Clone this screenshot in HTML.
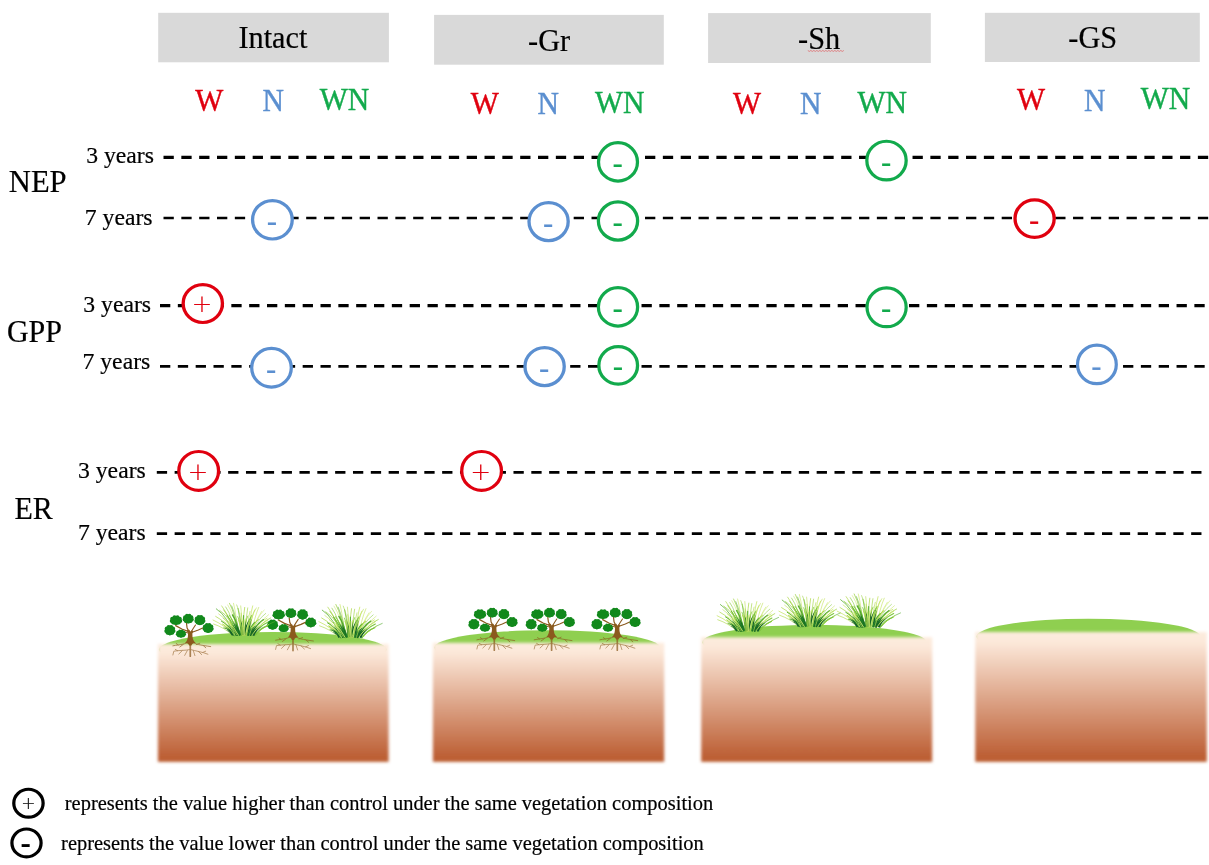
<!DOCTYPE html>
<html lang="en">
<head>
<meta charset="utf-8">
<title>Figure</title>
<style>
html,body{margin:0;padding:0;background:#fff;}
body{width:1209px;height:865px;overflow:hidden;font-family:"Liberation Serif",serif;}
svg{display:block;will-change:transform;}
text{font-family:"Liberation Serif",serif;opacity:0.999;}
</style>
</head>
<body>
<svg width="1209" height="865" viewBox="0 0 1209 865">
<defs>
<linearGradient id="soil" x1="0" y1="0" x2="0" y2="1"><stop offset="0" stop-color="#FDECDE"/><stop offset="0.08" stop-color="#FCE8D9"/><stop offset="0.95" stop-color="#BD6036"/><stop offset="1" stop-color="#BC5F35"/></linearGradient>
<filter id="soft" x="-5%" y="-5%" width="110%" height="110%"><feGaussianBlur stdDeviation="1.4"/></filter>

</defs>
<rect x="158.2" y="12.8" width="230.7" height="49.5" fill="#D9D9D9"/>
<text transform="translate(238.40 48.20) scale(1 1.04)" font-size="30.3" fill="#000" stroke="#000" stroke-width="0.2">Intact</text>
<rect x="434.1" y="14.9" width="229.7" height="49.8" fill="#D9D9D9"/>
<text transform="translate(528.10 50.90) scale(1 1.03)" font-size="30.3" fill="#000" stroke="#000" stroke-width="0.2">-Gr</text>
<rect x="708.1" y="13.1" width="222.7" height="49.9" fill="#D9D9D9"/>
<text transform="translate(798.10 48.70) scale(1 1.03)" font-size="30.3" fill="#000" stroke="#000" stroke-width="0.2">-Sh</text>
<rect x="984.9" y="12.8" width="214.9" height="49.2" fill="#D9D9D9"/>
<text transform="translate(1068.30 47.80) scale(1 1.02)" font-size="30.3" fill="#000" stroke="#000" stroke-width="0.2">-GS</text>
<path d="M807.8 50.5 L809.3 51.4 L810.8 50.5 L812.3 51.4 L813.8 50.5 L815.3 51.4 L816.8 50.5 L818.3 51.4 L819.8 50.5 L821.3 51.4 L822.8 50.5 L824.3 51.4 L825.8 50.5 L827.3 51.4 L828.8 50.5 L830.3 51.4 L831.8 50.5 L833.3 51.4 L834.8 50.5 L836.3 51.4 L837.8 50.5 L839.3 51.4 L840.8 50.5 L842.3 51.4 L843.8 50.5" fill="none" stroke="#E0474C" stroke-width="0.6"/>
<text transform="translate(195.30 111.00) scale(1 1.05)" font-size="29.7" fill="#E0000F" stroke="#E0000F" stroke-width="0.4">W</text>
<text transform="translate(262.40 110.60) scale(1 1.05)" font-size="29.7" fill="#5B8FD0" stroke="#5B8FD0" stroke-width="0.4">N</text>
<text transform="translate(319.70 109.60) scale(1 1.05)" font-size="29.7" fill="#12AA4C" stroke="#12AA4C" stroke-width="0.4">WN</text>
<text transform="translate(470.70 113.60) scale(1 1.07)" font-size="29.7" fill="#E0000F" stroke="#E0000F" stroke-width="0.4">W</text>
<text transform="translate(537.50 113.80) scale(1 1.07)" font-size="29.7" fill="#5B8FD0" stroke="#5B8FD0" stroke-width="0.4">N</text>
<text transform="translate(594.90 112.50) scale(1 1.07)" font-size="29.7" fill="#12AA4C" stroke="#12AA4C" stroke-width="0.4">WN</text>
<text transform="translate(733.10 113.60) scale(1 1.06)" font-size="29.7" fill="#E0000F" stroke="#E0000F" stroke-width="0.4">W</text>
<text transform="translate(800.00 113.80) scale(1 1.06)" font-size="29.7" fill="#5B8FD0" stroke="#5B8FD0" stroke-width="0.4">N</text>
<text transform="translate(857.50 112.50) scale(1 1.06)" font-size="29.7" fill="#12AA4C" stroke="#12AA4C" stroke-width="0.4">WN</text>
<text transform="translate(1017.10 110.10) scale(1 1.08)" font-size="29.7" fill="#E0000F" stroke="#E0000F" stroke-width="0.4">W</text>
<text transform="translate(1084.10 110.60) scale(1 1.08)" font-size="29.7" fill="#5B8FD0" stroke="#5B8FD0" stroke-width="0.4">N</text>
<text transform="translate(1140.80 109.10) scale(1 1.08)" font-size="29.7" fill="#12AA4C" stroke="#12AA4C" stroke-width="0.4">WN</text>
<line x1="163.5" y1="157.4" x2="1208.7" y2="157.4" stroke="#000" stroke-width="3.2" stroke-dasharray="10.3 7.534"/>
<line x1="163.5" y1="218.1" x2="1208.7" y2="218.1" stroke="#000" stroke-width="2.5" stroke-dasharray="10.3 7.534"/>
<line x1="160.0" y1="305.6" x2="1205.2" y2="305.6" stroke="#000" stroke-width="3.1" stroke-dasharray="10.3 7.534"/>
<line x1="160.0" y1="366.3" x2="1205.2" y2="366.3" stroke="#000" stroke-width="2.7" stroke-dasharray="10.3 7.534"/>
<line x1="156.8" y1="472.4" x2="1202.0" y2="472.4" stroke="#000" stroke-width="2.9" stroke-dasharray="10.3 7.534"/>
<line x1="156.8" y1="533.6" x2="1202.0" y2="533.6" stroke="#000" stroke-width="2.9" stroke-dasharray="10.3 7.534"/>
<text transform="translate(86.20 163.40) scale(1 0.99)" font-size="23.7" fill="#000" stroke="#000" stroke-width="0.2">3 years</text>
<text transform="translate(84.80 224.60) scale(1 0.99)" font-size="23.7" fill="#000" stroke="#000" stroke-width="0.2">7 years</text>
<text transform="translate(83.30 312.30) scale(1 0.99)" font-size="23.7" fill="#000" stroke="#000" stroke-width="0.2">3 years</text>
<text transform="translate(82.50 369.00) scale(1 0.99)" font-size="23.7" fill="#000" stroke="#000" stroke-width="0.2">7 years</text>
<text transform="translate(78.00 478.10) scale(1 0.99)" font-size="23.7" fill="#000" stroke="#000" stroke-width="0.2">3 years</text>
<text transform="translate(77.90 540.10) scale(1 0.99)" font-size="23.7" fill="#000" stroke="#000" stroke-width="0.2">7 years</text>
<text transform="translate(8.80 191.50) scale(1 1.035)" font-size="30.6" fill="#000" stroke="#000" stroke-width="0.2">NEP</text>
<text transform="translate(6.90 342.00) scale(1 1.055)" font-size="30" fill="#000" stroke="#000" stroke-width="0.2">GPP</text>
<text transform="translate(14.40 518.70) scale(1 1.03)" font-size="30" fill="#000" stroke="#000" stroke-width="0.2">ER</text>
<circle transform="translate(618.0 161.9) scale(1.0144 1)" cx="0" cy="0" r="19.20" fill="#fff" stroke="#12AA4C" stroke-width="3.2"/>
<text transform="translate(617.60 173.95) scale(1 1.12)" font-size="31" text-anchor="middle" fill="#12AA4C">-</text>
<circle transform="translate(886.5 160.6) scale(1.0167 1)" cx="0" cy="0" r="19.35" fill="#fff" stroke="#12AA4C" stroke-width="3.2"/>
<text transform="translate(886.10 172.65) scale(1 1.12)" font-size="31" text-anchor="middle" fill="#12AA4C">-</text>
<circle transform="translate(272.4 219.8) scale(1.0337 1)" cx="0" cy="0" r="19.20" fill="#fff" stroke="#5B8FD0" stroke-width="3.2"/>
<text transform="translate(272.00 231.85) scale(1 1.12)" font-size="31" text-anchor="middle" fill="#5B8FD0">-</text>
<circle transform="translate(548.6 221.6) scale(1.0341 1)" cx="0" cy="0" r="18.95" fill="#fff" stroke="#5B8FD0" stroke-width="3.2"/>
<text transform="translate(548.20 233.65) scale(1 1.12)" font-size="31" text-anchor="middle" fill="#5B8FD0">-</text>
<circle transform="translate(618.0 221.0) scale(1.0266 1)" cx="0" cy="0" r="19.10" fill="#fff" stroke="#12AA4C" stroke-width="3.2"/>
<text transform="translate(617.60 233.05) scale(1 1.12)" font-size="31" text-anchor="middle" fill="#12AA4C">-</text>
<circle transform="translate(1034.6 218.6) scale(1.0417 1)" cx="0" cy="0" r="18.80" fill="#fff" stroke="#E0000F" stroke-width="3.2"/>
<text transform="translate(1034.20 230.65) scale(1 1.12)" font-size="31" text-anchor="middle" fill="#E0000F">-</text>
<circle transform="translate(202.8 303.6) scale(1.0390 1)" cx="0" cy="0" r="18.90" fill="#fff" stroke="#E0000F" stroke-width="3.2"/>
<text x="202.00" y="312.21" font-size="25.0" text-anchor="middle" fill="#E0000F" stroke="#E0000F" stroke-width="0.12" style="font-family:'DejaVu Sans Light','DejaVu Sans',sans-serif;font-weight:200">+</text>
<circle transform="translate(618.0 306.9) scale(1.0216 1)" cx="0" cy="0" r="19.20" fill="#fff" stroke="#12AA4C" stroke-width="3.2"/>
<text transform="translate(617.60 318.95) scale(1 1.12)" font-size="31" text-anchor="middle" fill="#12AA4C">-</text>
<circle transform="translate(886.6 307.3) scale(1.0095 1)" cx="0" cy="0" r="19.40" fill="#fff" stroke="#12AA4C" stroke-width="3.2"/>
<text transform="translate(886.20 319.35) scale(1 1.12)" font-size="31" text-anchor="middle" fill="#12AA4C">-</text>
<circle transform="translate(271.5 367.75) scale(1.0263 1)" cx="0" cy="0" r="19.30" fill="#fff" stroke="#5B8FD0" stroke-width="3.2"/>
<text transform="translate(271.10 379.80) scale(1 1.12)" font-size="31" text-anchor="middle" fill="#5B8FD0">-</text>
<circle transform="translate(544.6 366.6) scale(1.0365 1)" cx="0" cy="0" r="18.95" fill="#fff" stroke="#5B8FD0" stroke-width="3.2"/>
<text transform="translate(544.20 378.65) scale(1 1.12)" font-size="31" text-anchor="middle" fill="#5B8FD0">-</text>
<circle transform="translate(618.2 365.4) scale(1.0294 1)" cx="0" cy="0" r="18.80" fill="#fff" stroke="#12AA4C" stroke-width="3.2"/>
<text transform="translate(617.80 377.45) scale(1 1.12)" font-size="31" text-anchor="middle" fill="#12AA4C">-</text>
<circle transform="translate(1096.9 364.4) scale(1.0048 1)" cx="0" cy="0" r="19.30" fill="#fff" stroke="#5B8FD0" stroke-width="3.2"/>
<text transform="translate(1096.50 376.45) scale(1 1.12)" font-size="31" text-anchor="middle" fill="#5B8FD0">-</text>
<circle transform="translate(198.7 470.9) scale(1.0238 1)" cx="0" cy="0" r="19.40" fill="#fff" stroke="#E0000F" stroke-width="3.2"/>
<text x="197.90" y="479.51" font-size="25.0" text-anchor="middle" fill="#E0000F" stroke="#E0000F" stroke-width="0.12" style="font-family:'DejaVu Sans Light','DejaVu Sans',sans-serif;font-weight:200">+</text>
<circle transform="translate(481.6 470.9) scale(1.0238 1)" cx="0" cy="0" r="19.40" fill="#fff" stroke="#E0000F" stroke-width="3.2"/>
<text x="480.80" y="479.51" font-size="25.0" text-anchor="middle" fill="#E0000F" stroke="#E0000F" stroke-width="0.12" style="font-family:'DejaVu Sans Light','DejaVu Sans',sans-serif;font-weight:200">+</text>
<ellipse cx="272.8" cy="649.5" rx="113.8" ry="17.6" fill="#8FCF50"/>
<rect x="157.9" y="644.0" width="230.7" height="117.9" fill="url(#soil)" filter="url(#soft)"/>
<ellipse cx="547.2" cy="647.6" rx="112.9" ry="17.4" fill="#8FCF50"/>
<rect x="432.9" y="642.8" width="231.3" height="119.1" fill="url(#soil)" filter="url(#soft)"/>
<ellipse cx="814.4" cy="642.2" rx="112.2" ry="17.4" fill="#8FCF50"/>
<rect x="701.2" y="637.2" width="231.0" height="124.7" fill="url(#soil)" filter="url(#soft)"/>
<ellipse cx="1088.4" cy="636.5" rx="112.0" ry="17.8" fill="#8FCF50"/>
<rect x="975.2" y="632.0" width="231.6" height="129.9" fill="url(#soil)" filter="url(#soft)"/>
<g transform="translate(190.3 642.6)">
<g fill="none" stroke="#8B5A1E" stroke-linecap="round" opacity="0.72">
<path d="M0 -2 L0 13.6" stroke-width="1.7"/>
<path d="M-1.5 -1.5 C-4 2 -9 1.6 -17.4 3.2 M1.5 -1.5 C4 2 10 2.4 20.4 4 M-7 1.8 L-10.5 4.4 M6 2 L9.5 0.6 M-12 2.4 L-14 1 M13 3 L15.5 5.2" stroke-width="0.9"/>
<path d="M-0.5 7 C-5 8 -11 7.6 -16.5 8.6 L-17.4 12.4 M0.5 7 C5 8.4 11 9 17.6 11.6 M-8 8 L-11.5 11.4 M8 8.8 L11.4 12 M-3 8 L-5.6 12.8 M3 8 L4.6 13 M-12.6 8.2 L-15 6.8 M12.6 9.8 L15.4 8.6" stroke-width="0.75"/>
</g>
<g fill="none" stroke="#8B5A1E" stroke-linecap="round" stroke-linejoin="round">
<path d="M-1.6 -11 L-8.5 -13.6 L-14.6 -17" stroke-width="1.3"/>
<path d="M-1.8 -12 L-3.2 -14.6 L-3.8 -19.2" stroke-width="1.2"/>
<path d="M1.4 -11.6 L3.2 -14.6 L5.2 -17.6" stroke-width="1.1"/>
<path d="M1.8 -10.4 L8 -12.6 L14 -15.4" stroke-width="1.2"/>
<path d="M-2 -9.6 L-6.6 -10.6" stroke-width="1.0"/>
</g>
<path d="M-5.2 0.4 C-2.8 -2 -2.3 -4.6 -2.3 -8.6 C-2.4 -10.4 -3 -11.4 -3.8 -12.4 L-1 -12.8 L0.1 -11 L1.6 -12.4 L3 -11 C2.3 -10 2.1 -9.4 2.1 -8.2 C2.1 -4.6 2.7 -2 5.4 0.4 C3.2 0 1.8 1 1.1 3 L-1.1 3 C-1.8 1 -3.2 0 -5.2 0.4 Z" fill="#8B5A1E"/>
<g fill="#12891C"><ellipse cx="-14.3" cy="-22.10" rx="5.54" ry="4.34"/><circle cx="-12.81" cy="-25.51" r="1.96"/><circle cx="-10.53" cy="-24.01" r="1.96"/><circle cx="-10.01" cy="-21.71" r="1.96"/><circle cx="-11.50" cy="-20.12" r="1.96"/><circle cx="-14.30" cy="-19.46" r="1.96"/><circle cx="-17.10" cy="-20.12" r="1.96"/><circle cx="-18.59" cy="-21.71" r="1.96"/><circle cx="-18.07" cy="-24.01" r="1.96"/><circle cx="-15.79" cy="-25.51" r="1.96"/><ellipse cx="-2.1" cy="-23.50" rx="4.71" ry="4.25"/><circle cx="-0.83" cy="-26.84" r="1.92"/><circle cx="1.11" cy="-25.37" r="1.92"/><circle cx="1.55" cy="-23.12" r="1.92"/><circle cx="0.28" cy="-21.57" r="1.92"/><circle cx="-2.10" cy="-20.92" r="1.92"/><circle cx="-4.48" cy="-21.57" r="1.92"/><circle cx="-5.75" cy="-23.12" r="1.92"/><circle cx="-5.31" cy="-25.37" r="1.92"/><circle cx="-3.37" cy="-26.84" r="1.92"/><ellipse cx="9.6" cy="-22.10" rx="4.53" ry="4.53"/><circle cx="10.82" cy="-25.64" r="2.05"/><circle cx="12.68" cy="-24.08" r="2.05"/><circle cx="13.10" cy="-21.68" r="2.05"/><circle cx="11.89" cy="-20.03" r="2.05"/><circle cx="9.60" cy="-19.34" r="2.05"/><circle cx="7.31" cy="-20.03" r="2.05"/><circle cx="6.10" cy="-21.68" r="2.05"/><circle cx="6.52" cy="-24.08" r="2.05"/><circle cx="8.38" cy="-25.64" r="2.05"/><ellipse cx="17.8" cy="-14.20" rx="4.71" ry="4.34"/><circle cx="19.07" cy="-17.61" r="1.96"/><circle cx="21.01" cy="-16.11" r="1.96"/><circle cx="21.45" cy="-13.81" r="1.96"/><circle cx="20.18" cy="-12.22" r="1.96"/><circle cx="17.80" cy="-11.56" r="1.96"/><circle cx="15.42" cy="-12.22" r="1.96"/><circle cx="14.15" cy="-13.81" r="1.96"/><circle cx="14.59" cy="-16.11" r="1.96"/><circle cx="16.53" cy="-17.61" r="1.96"/><ellipse cx="-20.4" cy="-12.00" rx="4.62" ry="4.53"/><circle cx="-19.16" cy="-15.54" r="2.05"/><circle cx="-17.26" cy="-13.98" r="2.05"/><circle cx="-16.83" cy="-11.58" r="2.05"/><circle cx="-18.07" cy="-9.93" r="2.05"/><circle cx="-20.40" cy="-9.24" r="2.05"/><circle cx="-22.73" cy="-9.93" r="2.05"/><circle cx="-23.97" cy="-11.58" r="2.05"/><circle cx="-23.54" cy="-13.98" r="2.05"/><circle cx="-21.64" cy="-15.54" r="2.05"/><ellipse cx="-9.35" cy="-8.60" rx="4.53" ry="3.51"/><circle cx="-8.13" cy="-11.39" r="1.59"/><circle cx="-6.27" cy="-10.18" r="1.59"/><circle cx="-5.85" cy="-8.32" r="1.59"/><circle cx="-7.06" cy="-7.04" r="1.59"/><circle cx="-9.35" cy="-6.50" r="1.59"/><circle cx="-11.64" cy="-7.04" r="1.59"/><circle cx="-12.85" cy="-8.32" r="1.59"/><circle cx="-12.43" cy="-10.18" r="1.59"/><circle cx="-10.57" cy="-11.39" r="1.59"/></g>
</g>
<g transform="translate(293.0 637.0)">
<g fill="none" stroke="#8B5A1E" stroke-linecap="round" opacity="0.72">
<path d="M0 -2 L0 13.6" stroke-width="1.7"/>
<path d="M-1.5 -1.5 C-4 2 -9 1.6 -17.4 3.2 M1.5 -1.5 C4 2 10 2.4 20.4 4 M-7 1.8 L-10.5 4.4 M6 2 L9.5 0.6 M-12 2.4 L-14 1 M13 3 L15.5 5.2" stroke-width="0.9"/>
<path d="M-0.5 7 C-5 8 -11 7.6 -16.5 8.6 L-17.4 12.4 M0.5 7 C5 8.4 11 9 17.6 11.6 M-8 8 L-11.5 11.4 M8 8.8 L11.4 12 M-3 8 L-5.6 12.8 M3 8 L4.6 13 M-12.6 8.2 L-15 6.8 M12.6 9.8 L15.4 8.6" stroke-width="0.75"/>
</g>
<g fill="none" stroke="#8B5A1E" stroke-linecap="round" stroke-linejoin="round">
<path d="M-1.6 -11 L-8.5 -13.6 L-14.6 -17" stroke-width="1.3"/>
<path d="M-1.8 -12 L-3.2 -14.6 L-3.8 -19.2" stroke-width="1.2"/>
<path d="M1.4 -11.6 L3.2 -14.6 L5.2 -17.6" stroke-width="1.1"/>
<path d="M1.8 -10.4 L8 -12.6 L14 -15.4" stroke-width="1.2"/>
<path d="M-2 -9.6 L-6.6 -10.6" stroke-width="1.0"/>
</g>
<path d="M-5.2 0.4 C-2.8 -2 -2.3 -4.6 -2.3 -8.6 C-2.4 -10.4 -3 -11.4 -3.8 -12.4 L-1 -12.8 L0.1 -11 L1.6 -12.4 L3 -11 C2.3 -10 2.1 -9.4 2.1 -8.2 C2.1 -4.6 2.7 -2 5.4 0.4 C3.2 0 1.8 1 1.1 3 L-1.1 3 C-1.8 1 -3.2 0 -5.2 0.4 Z" fill="#8B5A1E"/>
<g fill="#12891C"><ellipse cx="-14.3" cy="-22.10" rx="5.54" ry="4.34"/><circle cx="-12.81" cy="-25.51" r="1.96"/><circle cx="-10.53" cy="-24.01" r="1.96"/><circle cx="-10.01" cy="-21.71" r="1.96"/><circle cx="-11.50" cy="-20.12" r="1.96"/><circle cx="-14.30" cy="-19.46" r="1.96"/><circle cx="-17.10" cy="-20.12" r="1.96"/><circle cx="-18.59" cy="-21.71" r="1.96"/><circle cx="-18.07" cy="-24.01" r="1.96"/><circle cx="-15.79" cy="-25.51" r="1.96"/><ellipse cx="-2.1" cy="-23.50" rx="4.71" ry="4.25"/><circle cx="-0.83" cy="-26.84" r="1.92"/><circle cx="1.11" cy="-25.37" r="1.92"/><circle cx="1.55" cy="-23.12" r="1.92"/><circle cx="0.28" cy="-21.57" r="1.92"/><circle cx="-2.10" cy="-20.92" r="1.92"/><circle cx="-4.48" cy="-21.57" r="1.92"/><circle cx="-5.75" cy="-23.12" r="1.92"/><circle cx="-5.31" cy="-25.37" r="1.92"/><circle cx="-3.37" cy="-26.84" r="1.92"/><ellipse cx="9.6" cy="-22.10" rx="4.53" ry="4.53"/><circle cx="10.82" cy="-25.64" r="2.05"/><circle cx="12.68" cy="-24.08" r="2.05"/><circle cx="13.10" cy="-21.68" r="2.05"/><circle cx="11.89" cy="-20.03" r="2.05"/><circle cx="9.60" cy="-19.34" r="2.05"/><circle cx="7.31" cy="-20.03" r="2.05"/><circle cx="6.10" cy="-21.68" r="2.05"/><circle cx="6.52" cy="-24.08" r="2.05"/><circle cx="8.38" cy="-25.64" r="2.05"/><ellipse cx="17.8" cy="-14.20" rx="4.71" ry="4.34"/><circle cx="19.07" cy="-17.61" r="1.96"/><circle cx="21.01" cy="-16.11" r="1.96"/><circle cx="21.45" cy="-13.81" r="1.96"/><circle cx="20.18" cy="-12.22" r="1.96"/><circle cx="17.80" cy="-11.56" r="1.96"/><circle cx="15.42" cy="-12.22" r="1.96"/><circle cx="14.15" cy="-13.81" r="1.96"/><circle cx="14.59" cy="-16.11" r="1.96"/><circle cx="16.53" cy="-17.61" r="1.96"/><ellipse cx="-20.4" cy="-12.00" rx="4.62" ry="4.53"/><circle cx="-19.16" cy="-15.54" r="2.05"/><circle cx="-17.26" cy="-13.98" r="2.05"/><circle cx="-16.83" cy="-11.58" r="2.05"/><circle cx="-18.07" cy="-9.93" r="2.05"/><circle cx="-20.40" cy="-9.24" r="2.05"/><circle cx="-22.73" cy="-9.93" r="2.05"/><circle cx="-23.97" cy="-11.58" r="2.05"/><circle cx="-23.54" cy="-13.98" r="2.05"/><circle cx="-21.64" cy="-15.54" r="2.05"/><ellipse cx="-9.35" cy="-8.60" rx="4.53" ry="3.51"/><circle cx="-8.13" cy="-11.39" r="1.59"/><circle cx="-6.27" cy="-10.18" r="1.59"/><circle cx="-5.85" cy="-8.32" r="1.59"/><circle cx="-7.06" cy="-7.04" r="1.59"/><circle cx="-9.35" cy="-6.50" r="1.59"/><circle cx="-11.64" cy="-7.04" r="1.59"/><circle cx="-12.85" cy="-8.32" r="1.59"/><circle cx="-12.43" cy="-10.18" r="1.59"/><circle cx="-10.57" cy="-11.39" r="1.59"/></g>
</g>
<g transform="translate(494.3 636.6)">
<g fill="none" stroke="#8B5A1E" stroke-linecap="round" opacity="0.72">
<path d="M0 -2 L0 13.6" stroke-width="1.7"/>
<path d="M-1.5 -1.5 C-4 2 -9 1.6 -17.4 3.2 M1.5 -1.5 C4 2 10 2.4 20.4 4 M-7 1.8 L-10.5 4.4 M6 2 L9.5 0.6 M-12 2.4 L-14 1 M13 3 L15.5 5.2" stroke-width="0.9"/>
<path d="M-0.5 7 C-5 8 -11 7.6 -16.5 8.6 L-17.4 12.4 M0.5 7 C5 8.4 11 9 17.6 11.6 M-8 8 L-11.5 11.4 M8 8.8 L11.4 12 M-3 8 L-5.6 12.8 M3 8 L4.6 13 M-12.6 8.2 L-15 6.8 M12.6 9.8 L15.4 8.6" stroke-width="0.75"/>
</g>
<g fill="none" stroke="#8B5A1E" stroke-linecap="round" stroke-linejoin="round">
<path d="M-1.6 -11 L-8.5 -13.6 L-14.6 -17" stroke-width="1.3"/>
<path d="M-1.8 -12 L-3.2 -14.6 L-3.8 -19.2" stroke-width="1.2"/>
<path d="M1.4 -11.6 L3.2 -14.6 L5.2 -17.6" stroke-width="1.1"/>
<path d="M1.8 -10.4 L8 -12.6 L14 -15.4" stroke-width="1.2"/>
<path d="M-2 -9.6 L-6.6 -10.6" stroke-width="1.0"/>
</g>
<path d="M-5.2 0.4 C-2.8 -2 -2.3 -4.6 -2.3 -8.6 C-2.4 -10.4 -3 -11.4 -3.8 -12.4 L-1 -12.8 L0.1 -11 L1.6 -12.4 L3 -11 C2.3 -10 2.1 -9.4 2.1 -8.2 C2.1 -4.6 2.7 -2 5.4 0.4 C3.2 0 1.8 1 1.1 3 L-1.1 3 C-1.8 1 -3.2 0 -5.2 0.4 Z" fill="#8B5A1E"/>
<g fill="#12891C"><ellipse cx="-14.3" cy="-22.10" rx="5.54" ry="4.34"/><circle cx="-12.81" cy="-25.51" r="1.96"/><circle cx="-10.53" cy="-24.01" r="1.96"/><circle cx="-10.01" cy="-21.71" r="1.96"/><circle cx="-11.50" cy="-20.12" r="1.96"/><circle cx="-14.30" cy="-19.46" r="1.96"/><circle cx="-17.10" cy="-20.12" r="1.96"/><circle cx="-18.59" cy="-21.71" r="1.96"/><circle cx="-18.07" cy="-24.01" r="1.96"/><circle cx="-15.79" cy="-25.51" r="1.96"/><ellipse cx="-2.1" cy="-23.50" rx="4.71" ry="4.25"/><circle cx="-0.83" cy="-26.84" r="1.92"/><circle cx="1.11" cy="-25.37" r="1.92"/><circle cx="1.55" cy="-23.12" r="1.92"/><circle cx="0.28" cy="-21.57" r="1.92"/><circle cx="-2.10" cy="-20.92" r="1.92"/><circle cx="-4.48" cy="-21.57" r="1.92"/><circle cx="-5.75" cy="-23.12" r="1.92"/><circle cx="-5.31" cy="-25.37" r="1.92"/><circle cx="-3.37" cy="-26.84" r="1.92"/><ellipse cx="9.6" cy="-22.10" rx="4.53" ry="4.53"/><circle cx="10.82" cy="-25.64" r="2.05"/><circle cx="12.68" cy="-24.08" r="2.05"/><circle cx="13.10" cy="-21.68" r="2.05"/><circle cx="11.89" cy="-20.03" r="2.05"/><circle cx="9.60" cy="-19.34" r="2.05"/><circle cx="7.31" cy="-20.03" r="2.05"/><circle cx="6.10" cy="-21.68" r="2.05"/><circle cx="6.52" cy="-24.08" r="2.05"/><circle cx="8.38" cy="-25.64" r="2.05"/><ellipse cx="17.8" cy="-14.20" rx="4.71" ry="4.34"/><circle cx="19.07" cy="-17.61" r="1.96"/><circle cx="21.01" cy="-16.11" r="1.96"/><circle cx="21.45" cy="-13.81" r="1.96"/><circle cx="20.18" cy="-12.22" r="1.96"/><circle cx="17.80" cy="-11.56" r="1.96"/><circle cx="15.42" cy="-12.22" r="1.96"/><circle cx="14.15" cy="-13.81" r="1.96"/><circle cx="14.59" cy="-16.11" r="1.96"/><circle cx="16.53" cy="-17.61" r="1.96"/><ellipse cx="-20.4" cy="-12.00" rx="4.62" ry="4.53"/><circle cx="-19.16" cy="-15.54" r="2.05"/><circle cx="-17.26" cy="-13.98" r="2.05"/><circle cx="-16.83" cy="-11.58" r="2.05"/><circle cx="-18.07" cy="-9.93" r="2.05"/><circle cx="-20.40" cy="-9.24" r="2.05"/><circle cx="-22.73" cy="-9.93" r="2.05"/><circle cx="-23.97" cy="-11.58" r="2.05"/><circle cx="-23.54" cy="-13.98" r="2.05"/><circle cx="-21.64" cy="-15.54" r="2.05"/><ellipse cx="-9.35" cy="-8.60" rx="4.53" ry="3.51"/><circle cx="-8.13" cy="-11.39" r="1.59"/><circle cx="-6.27" cy="-10.18" r="1.59"/><circle cx="-5.85" cy="-8.32" r="1.59"/><circle cx="-7.06" cy="-7.04" r="1.59"/><circle cx="-9.35" cy="-6.50" r="1.59"/><circle cx="-11.64" cy="-7.04" r="1.59"/><circle cx="-12.85" cy="-8.32" r="1.59"/><circle cx="-12.43" cy="-10.18" r="1.59"/><circle cx="-10.57" cy="-11.39" r="1.59"/></g>
</g>
<g transform="translate(551.6 636.6)">
<g fill="none" stroke="#8B5A1E" stroke-linecap="round" opacity="0.72">
<path d="M0 -2 L0 13.6" stroke-width="1.7"/>
<path d="M-1.5 -1.5 C-4 2 -9 1.6 -17.4 3.2 M1.5 -1.5 C4 2 10 2.4 20.4 4 M-7 1.8 L-10.5 4.4 M6 2 L9.5 0.6 M-12 2.4 L-14 1 M13 3 L15.5 5.2" stroke-width="0.9"/>
<path d="M-0.5 7 C-5 8 -11 7.6 -16.5 8.6 L-17.4 12.4 M0.5 7 C5 8.4 11 9 17.6 11.6 M-8 8 L-11.5 11.4 M8 8.8 L11.4 12 M-3 8 L-5.6 12.8 M3 8 L4.6 13 M-12.6 8.2 L-15 6.8 M12.6 9.8 L15.4 8.6" stroke-width="0.75"/>
</g>
<g fill="none" stroke="#8B5A1E" stroke-linecap="round" stroke-linejoin="round">
<path d="M-1.6 -11 L-8.5 -13.6 L-14.6 -17" stroke-width="1.3"/>
<path d="M-1.8 -12 L-3.2 -14.6 L-3.8 -19.2" stroke-width="1.2"/>
<path d="M1.4 -11.6 L3.2 -14.6 L5.2 -17.6" stroke-width="1.1"/>
<path d="M1.8 -10.4 L8 -12.6 L14 -15.4" stroke-width="1.2"/>
<path d="M-2 -9.6 L-6.6 -10.6" stroke-width="1.0"/>
</g>
<path d="M-5.2 0.4 C-2.8 -2 -2.3 -4.6 -2.3 -8.6 C-2.4 -10.4 -3 -11.4 -3.8 -12.4 L-1 -12.8 L0.1 -11 L1.6 -12.4 L3 -11 C2.3 -10 2.1 -9.4 2.1 -8.2 C2.1 -4.6 2.7 -2 5.4 0.4 C3.2 0 1.8 1 1.1 3 L-1.1 3 C-1.8 1 -3.2 0 -5.2 0.4 Z" fill="#8B5A1E"/>
<g fill="#12891C"><ellipse cx="-14.3" cy="-22.10" rx="5.54" ry="4.34"/><circle cx="-12.81" cy="-25.51" r="1.96"/><circle cx="-10.53" cy="-24.01" r="1.96"/><circle cx="-10.01" cy="-21.71" r="1.96"/><circle cx="-11.50" cy="-20.12" r="1.96"/><circle cx="-14.30" cy="-19.46" r="1.96"/><circle cx="-17.10" cy="-20.12" r="1.96"/><circle cx="-18.59" cy="-21.71" r="1.96"/><circle cx="-18.07" cy="-24.01" r="1.96"/><circle cx="-15.79" cy="-25.51" r="1.96"/><ellipse cx="-2.1" cy="-23.50" rx="4.71" ry="4.25"/><circle cx="-0.83" cy="-26.84" r="1.92"/><circle cx="1.11" cy="-25.37" r="1.92"/><circle cx="1.55" cy="-23.12" r="1.92"/><circle cx="0.28" cy="-21.57" r="1.92"/><circle cx="-2.10" cy="-20.92" r="1.92"/><circle cx="-4.48" cy="-21.57" r="1.92"/><circle cx="-5.75" cy="-23.12" r="1.92"/><circle cx="-5.31" cy="-25.37" r="1.92"/><circle cx="-3.37" cy="-26.84" r="1.92"/><ellipse cx="9.6" cy="-22.10" rx="4.53" ry="4.53"/><circle cx="10.82" cy="-25.64" r="2.05"/><circle cx="12.68" cy="-24.08" r="2.05"/><circle cx="13.10" cy="-21.68" r="2.05"/><circle cx="11.89" cy="-20.03" r="2.05"/><circle cx="9.60" cy="-19.34" r="2.05"/><circle cx="7.31" cy="-20.03" r="2.05"/><circle cx="6.10" cy="-21.68" r="2.05"/><circle cx="6.52" cy="-24.08" r="2.05"/><circle cx="8.38" cy="-25.64" r="2.05"/><ellipse cx="17.8" cy="-14.20" rx="4.71" ry="4.34"/><circle cx="19.07" cy="-17.61" r="1.96"/><circle cx="21.01" cy="-16.11" r="1.96"/><circle cx="21.45" cy="-13.81" r="1.96"/><circle cx="20.18" cy="-12.22" r="1.96"/><circle cx="17.80" cy="-11.56" r="1.96"/><circle cx="15.42" cy="-12.22" r="1.96"/><circle cx="14.15" cy="-13.81" r="1.96"/><circle cx="14.59" cy="-16.11" r="1.96"/><circle cx="16.53" cy="-17.61" r="1.96"/><ellipse cx="-20.4" cy="-12.00" rx="4.62" ry="4.53"/><circle cx="-19.16" cy="-15.54" r="2.05"/><circle cx="-17.26" cy="-13.98" r="2.05"/><circle cx="-16.83" cy="-11.58" r="2.05"/><circle cx="-18.07" cy="-9.93" r="2.05"/><circle cx="-20.40" cy="-9.24" r="2.05"/><circle cx="-22.73" cy="-9.93" r="2.05"/><circle cx="-23.97" cy="-11.58" r="2.05"/><circle cx="-23.54" cy="-13.98" r="2.05"/><circle cx="-21.64" cy="-15.54" r="2.05"/><ellipse cx="-9.35" cy="-8.60" rx="4.53" ry="3.51"/><circle cx="-8.13" cy="-11.39" r="1.59"/><circle cx="-6.27" cy="-10.18" r="1.59"/><circle cx="-5.85" cy="-8.32" r="1.59"/><circle cx="-7.06" cy="-7.04" r="1.59"/><circle cx="-9.35" cy="-6.50" r="1.59"/><circle cx="-11.64" cy="-7.04" r="1.59"/><circle cx="-12.85" cy="-8.32" r="1.59"/><circle cx="-12.43" cy="-10.18" r="1.59"/><circle cx="-10.57" cy="-11.39" r="1.59"/></g>
</g>
<g transform="translate(617.3 636.6)">
<g fill="none" stroke="#8B5A1E" stroke-linecap="round" opacity="0.72">
<path d="M0 -2 L0 13.6" stroke-width="1.7"/>
<path d="M-1.5 -1.5 C-4 2 -9 1.6 -17.4 3.2 M1.5 -1.5 C4 2 10 2.4 20.4 4 M-7 1.8 L-10.5 4.4 M6 2 L9.5 0.6 M-12 2.4 L-14 1 M13 3 L15.5 5.2" stroke-width="0.9"/>
<path d="M-0.5 7 C-5 8 -11 7.6 -16.5 8.6 L-17.4 12.4 M0.5 7 C5 8.4 11 9 17.6 11.6 M-8 8 L-11.5 11.4 M8 8.8 L11.4 12 M-3 8 L-5.6 12.8 M3 8 L4.6 13 M-12.6 8.2 L-15 6.8 M12.6 9.8 L15.4 8.6" stroke-width="0.75"/>
</g>
<g fill="none" stroke="#8B5A1E" stroke-linecap="round" stroke-linejoin="round">
<path d="M-1.6 -11 L-8.5 -13.6 L-14.6 -17" stroke-width="1.3"/>
<path d="M-1.8 -12 L-3.2 -14.6 L-3.8 -19.2" stroke-width="1.2"/>
<path d="M1.4 -11.6 L3.2 -14.6 L5.2 -17.6" stroke-width="1.1"/>
<path d="M1.8 -10.4 L8 -12.6 L14 -15.4" stroke-width="1.2"/>
<path d="M-2 -9.6 L-6.6 -10.6" stroke-width="1.0"/>
</g>
<path d="M-5.2 0.4 C-2.8 -2 -2.3 -4.6 -2.3 -8.6 C-2.4 -10.4 -3 -11.4 -3.8 -12.4 L-1 -12.8 L0.1 -11 L1.6 -12.4 L3 -11 C2.3 -10 2.1 -9.4 2.1 -8.2 C2.1 -4.6 2.7 -2 5.4 0.4 C3.2 0 1.8 1 1.1 3 L-1.1 3 C-1.8 1 -3.2 0 -5.2 0.4 Z" fill="#8B5A1E"/>
<g fill="#12891C"><ellipse cx="-14.3" cy="-22.10" rx="5.54" ry="4.34"/><circle cx="-12.81" cy="-25.51" r="1.96"/><circle cx="-10.53" cy="-24.01" r="1.96"/><circle cx="-10.01" cy="-21.71" r="1.96"/><circle cx="-11.50" cy="-20.12" r="1.96"/><circle cx="-14.30" cy="-19.46" r="1.96"/><circle cx="-17.10" cy="-20.12" r="1.96"/><circle cx="-18.59" cy="-21.71" r="1.96"/><circle cx="-18.07" cy="-24.01" r="1.96"/><circle cx="-15.79" cy="-25.51" r="1.96"/><ellipse cx="-2.1" cy="-23.50" rx="4.71" ry="4.25"/><circle cx="-0.83" cy="-26.84" r="1.92"/><circle cx="1.11" cy="-25.37" r="1.92"/><circle cx="1.55" cy="-23.12" r="1.92"/><circle cx="0.28" cy="-21.57" r="1.92"/><circle cx="-2.10" cy="-20.92" r="1.92"/><circle cx="-4.48" cy="-21.57" r="1.92"/><circle cx="-5.75" cy="-23.12" r="1.92"/><circle cx="-5.31" cy="-25.37" r="1.92"/><circle cx="-3.37" cy="-26.84" r="1.92"/><ellipse cx="9.6" cy="-22.10" rx="4.53" ry="4.53"/><circle cx="10.82" cy="-25.64" r="2.05"/><circle cx="12.68" cy="-24.08" r="2.05"/><circle cx="13.10" cy="-21.68" r="2.05"/><circle cx="11.89" cy="-20.03" r="2.05"/><circle cx="9.60" cy="-19.34" r="2.05"/><circle cx="7.31" cy="-20.03" r="2.05"/><circle cx="6.10" cy="-21.68" r="2.05"/><circle cx="6.52" cy="-24.08" r="2.05"/><circle cx="8.38" cy="-25.64" r="2.05"/><ellipse cx="17.8" cy="-14.20" rx="4.71" ry="4.34"/><circle cx="19.07" cy="-17.61" r="1.96"/><circle cx="21.01" cy="-16.11" r="1.96"/><circle cx="21.45" cy="-13.81" r="1.96"/><circle cx="20.18" cy="-12.22" r="1.96"/><circle cx="17.80" cy="-11.56" r="1.96"/><circle cx="15.42" cy="-12.22" r="1.96"/><circle cx="14.15" cy="-13.81" r="1.96"/><circle cx="14.59" cy="-16.11" r="1.96"/><circle cx="16.53" cy="-17.61" r="1.96"/><ellipse cx="-20.4" cy="-12.00" rx="4.62" ry="4.53"/><circle cx="-19.16" cy="-15.54" r="2.05"/><circle cx="-17.26" cy="-13.98" r="2.05"/><circle cx="-16.83" cy="-11.58" r="2.05"/><circle cx="-18.07" cy="-9.93" r="2.05"/><circle cx="-20.40" cy="-9.24" r="2.05"/><circle cx="-22.73" cy="-9.93" r="2.05"/><circle cx="-23.97" cy="-11.58" r="2.05"/><circle cx="-23.54" cy="-13.98" r="2.05"/><circle cx="-21.64" cy="-15.54" r="2.05"/><ellipse cx="-9.35" cy="-8.60" rx="4.53" ry="3.51"/><circle cx="-8.13" cy="-11.39" r="1.59"/><circle cx="-6.27" cy="-10.18" r="1.59"/><circle cx="-5.85" cy="-8.32" r="1.59"/><circle cx="-7.06" cy="-7.04" r="1.59"/><circle cx="-9.35" cy="-6.50" r="1.59"/><circle cx="-11.64" cy="-7.04" r="1.59"/><circle cx="-12.85" cy="-8.32" r="1.59"/><circle cx="-12.43" cy="-10.18" r="1.59"/><circle cx="-10.57" cy="-11.39" r="1.59"/></g>
</g>
<g transform="translate(243.7 634.9) scale(1.0)">
<path d="M-10.47 0.42 Q-15.31 -17.97 -27.40 -26.10" fill="none" stroke="#58AE32" stroke-width="0.84" stroke-linecap="round" opacity="0.9"/>
<path d="M-10.59 0.46 Q-17.80 -9.19 -30.70 -14.90" fill="none" stroke="#C4E45F" stroke-width="0.79" stroke-linecap="round" opacity="0.9"/>
<path d="M-12.00 -0.20 Q-18.49 -6.92 -30.10 -10.90" fill="none" stroke="#B0DA4E" stroke-width="0.72" stroke-linecap="round" opacity="0.9"/>
<path d="M-5.50 -0.08 Q-8.42 -20.54 -14.20 -31.60" fill="none" stroke="#98CE3C" stroke-width="0.78" stroke-linecap="round" opacity="0.9"/>
<path d="M-5.35 -0.16 Q-7.17 -19.45 -10.20 -31.60" fill="none" stroke="#CFEA78" stroke-width="0.80" stroke-linecap="round" opacity="0.9"/>
<path d="M-1.81 -0.18 Q-3.34 -15.86 -5.70 -26.50" fill="none" stroke="#6BBB36" stroke-width="0.84" stroke-linecap="round" opacity="0.9"/>
<path d="M3.61 0.49 Q4.30 -16.85 6.30 -23.50" fill="none" stroke="#B0DA4E" stroke-width="0.67" stroke-linecap="round" opacity="0.9"/>
<path d="M5.20 0.26 Q7.07 -19.47 12.60 -27.00" fill="none" stroke="#BADF58" stroke-width="0.65" stroke-linecap="round" opacity="0.9"/>
<path d="M8.75 -0.03 Q14.73 -12.48 24.90 -20.20" fill="none" stroke="#CFEA78" stroke-width="0.69" stroke-linecap="round" opacity="0.9"/>
<path d="M7.90 -0.00 Q12.66 -11.24 23.30 -16.70" fill="none" stroke="#C4E45F" stroke-width="0.80" stroke-linecap="round" opacity="0.9"/>
<path d="M12.50 -0.24 Q18.91 -8.48 30.80 -13.20" fill="none" stroke="#58AE32" stroke-width="0.69" stroke-linecap="round" opacity="0.9"/>
<path d="M-8.01 0.13 Q-13.42 -17.42 -22.00 -29.00" fill="none" stroke="#B0DA4E" stroke-width="0.78" stroke-linecap="round" opacity="0.9"/>
<path d="M-8.10 0.55 Q-13.77 -13.43 -25.00 -21.00" fill="none" stroke="#C4E45F" stroke-width="0.69" stroke-linecap="round" opacity="0.9"/>
<path d="M7.40 0.03 Q11.57 -14.00 18.00 -23.50" fill="none" stroke="#CFEA78" stroke-width="0.74" stroke-linecap="round" opacity="0.9"/>
<path d="M-1.41 0.26 Q-0.50 -16.70 1.00 -27.50" fill="none" stroke="#B0DA4E" stroke-width="0.84" stroke-linecap="round" opacity="0.9"/>
<path d="M-8.22 0.01 Q-11.33 -18.61 -18.00 -28.00" fill="none" stroke="#8ACB42" stroke-width="0.69" stroke-linecap="round" opacity="0.9"/>
<path d="M4.70 0.23 Q6.17 -18.59 9.00 -29.00" fill="none" stroke="#C4E45F" stroke-width="0.80" stroke-linecap="round" opacity="0.9"/>
<path d="M7.38 0.55 Q11.91 -15.81 20.50 -25.00" fill="none" stroke="#CFEA78" stroke-width="0.62" stroke-linecap="round" opacity="0.9"/>
<path d="M-10.76 0.01 Q-16.19 -12.35 -28.00 -18.50" fill="none" stroke="#B0DA4E" stroke-width="0.83" stroke-linecap="round" opacity="0.9"/>
<path d="M10.05 -0.02 Q15.18 -11.54 27.00 -17.00" fill="none" stroke="#A2D444" stroke-width="0.80" stroke-linecap="round" opacity="0.9"/>
<path d="M-3.92 0.60 Q-7.05 -17.20 -12.00 -29.00" fill="none" stroke="#58AE32" stroke-width="0.64" stroke-linecap="round" opacity="0.9"/>
<path d="M-0.85 0.53 Q-2.61 -20.64 -7.00 -30.00" fill="none" stroke="#98CE3C" stroke-width="0.61" stroke-linecap="round" opacity="0.9"/>
<path d="M0.98 0.11 Q2.15 -16.22 4.00 -27.00" fill="none" stroke="#A2D444" stroke-width="0.71" stroke-linecap="round" opacity="0.9"/>
<path d="M7.66 0.42 Q10.34 -16.96 15.00 -27.50" fill="none" stroke="#C4E45F" stroke-width="0.68" stroke-linecap="round" opacity="0.9"/>
<path d="M-7.67 0.55 Q-12.23 -16.98 -24.00 -24.50" fill="none" stroke="#98CE3C" stroke-width="0.76" stroke-linecap="round" opacity="0.9"/>
<path d="M7.23 0.04 Q12.15 -13.98 22.00 -21.50" fill="none" stroke="#8ACB42" stroke-width="0.61" stroke-linecap="round" opacity="0.9"/>
<path d="M-9.44 0.47 Q-12.90 -16.22 -20.00 -25.00" fill="none" stroke="#98CE3C" stroke-width="0.84" stroke-linecap="round" opacity="0.9"/>
<path d="M-1.25 -0.01 Q-1.82 -19.07 -3.00 -29.00" fill="none" stroke="#BADF58" stroke-width="0.67" stroke-linecap="round" opacity="0.9"/>
<path d="M6.01 0.04 Q7.28 -18.06 11.00 -25.00" fill="none" stroke="#C4E45F" stroke-width="0.85" stroke-linecap="round" opacity="0.9"/>
<path d="M-5.89 0.48 Q-9.15 -19.65 -16.00 -30.00" fill="none" stroke="#CFEA78" stroke-width="0.65" stroke-linecap="round" opacity="0.9"/>
<path d="M-0.03 -0.23 Q-0.05 -13.29 -0.10 -19.39" fill="none" stroke="#58AE32" stroke-width="1.04" stroke-linecap="round"/>
<path d="M2.24 0.47 Q4.36 -11.88 7.95 -19.58" fill="none" stroke="#8ACB42" stroke-width="0.88" stroke-linecap="round"/>
<path d="M11.53 0.07 Q17.13 -5.98 25.06 -10.40" fill="none" stroke="#B0DA4E" stroke-width="0.85" stroke-linecap="round"/>
<path d="M1.45 0.21 Q1.73 -10.84 2.37 -16.08" fill="none" stroke="#C4E45F" stroke-width="1.05" stroke-linecap="round"/>
<path d="M-3.98 0.73 Q-5.81 -8.59 -8.71 -14.75" fill="none" stroke="#B0DA4E" stroke-width="0.92" stroke-linecap="round"/>
<path d="M6.29 0.07 Q10.10 -7.36 16.23 -12.19" fill="none" stroke="#6BBB36" stroke-width="0.84" stroke-linecap="round"/>
<path d="M-4.18 -0.21 Q-6.61 -12.31 -10.46 -20.30" fill="none" stroke="#8ACB42" stroke-width="1.00" stroke-linecap="round"/>
<path d="M6.07 0.16 Q8.41 -10.85 14.72 -15.39" fill="none" stroke="#B0DA4E" stroke-width="0.99" stroke-linecap="round"/>
<path d="M-6.44 0.35 Q-10.23 -11.61 -16.45 -19.28" fill="none" stroke="#6BBB36" stroke-width="0.99" stroke-linecap="round"/>
<path d="M1.07 0.22 Q2.69 -12.70 7.15 -17.93" fill="none" stroke="#7DC63C" stroke-width="0.87" stroke-linecap="round"/>
<path d="M-8.19 0.30 Q-13.18 -8.64 -22.37 -13.81" fill="none" stroke="#58AE32" stroke-width="0.92" stroke-linecap="round"/>
<path d="M0.57 0.69 Q1.46 -13.37 4.05 -18.82" fill="none" stroke="#8ACB42" stroke-width="0.80" stroke-linecap="round"/>
<path d="M7.70 0.30 Q11.46 -10.24 19.73 -15.45" fill="none" stroke="#4FA62E" stroke-width="1.09" stroke-linecap="round"/>
<path d="M-9.23 0.34 Q-13.88 -6.27 -21.02 -10.76" fill="none" stroke="#B0DA4E" stroke-width="1.09" stroke-linecap="round"/>
<path d="M-1.96 0.21 Q-3.21 -12.07 -5.85 -18.36" fill="none" stroke="#8ACB42" stroke-width="0.85" stroke-linecap="round"/>
<path d="M9.31 0.09 Q14.53 -7.95 24.14 -12.59" fill="none" stroke="#7DC63C" stroke-width="1.07" stroke-linecap="round"/>
<path d="M-3.61 0.06 Q-6.36 -12.68 -11.40 -20.06" fill="none" stroke="#4FA62E" stroke-width="1.06" stroke-linecap="round"/>
<path d="M-2.75 0.77 Q-3.42 -10.72 -5.30 -15.30" fill="none" stroke="#B0DA4E" stroke-width="0.91" stroke-linecap="round"/>
<path d="M3.97 0.25 Q4.59 -11.24 6.37 -15.71" fill="none" stroke="#58AE32" stroke-width="0.92" stroke-linecap="round"/>
<path d="M-5.97 -0.27 Q-9.15 -12.19 -14.45 -19.71" fill="none" stroke="#8ACB42" stroke-width="1.00" stroke-linecap="round"/>
<path d="M-10.05 0.23 Q-12.58 -5.03 -19.83 -7.09" fill="none" stroke="#6BBB36" stroke-width="0.97" stroke-linecap="round"/>
<path d="M4.12 -0.13 Q6.49 -8.26 11.25 -12.62" fill="none" stroke="#58AE32" stroke-width="1.10" stroke-linecap="round"/>
<path d="M11.29 0.67 Q14.85 -6.04 23.64 -9.03" fill="none" stroke="#7DC63C" stroke-width="1.07" stroke-linecap="round"/>
<path d="M-5.14 0.03 Q-7.70 -10.10 -12.31 -16.06" fill="none" stroke="#8ACB42" stroke-width="0.96" stroke-linecap="round"/>
<path d="M0.25 -0.09 Q1.65 -10.71 5.75 -15.25 Q2.82 -10.59 1.93 0.09Z" fill="#14602A"/>
<path d="M3.65 0.53 Q6.09 -6.11 12.13 -9.30 Q7.15 -5.77 5.17 1.03Z" fill="#25802A"/>
<path d="M9.10 0.56 Q11.71 -5.91 19.13 -8.68 Q12.79 -5.53 10.64 1.12Z" fill="#14602A"/>
<path d="M-5.53 0.33 Q-6.83 -5.18 -10.47 -7.93 Q-5.57 -5.55 -3.72 -0.20Z" fill="#14602A"/>
<path d="M0.20 0.28 Q0.89 -9.45 2.46 -14.74 Q1.88 -9.40 1.61 0.35Z" fill="#14602A"/>
<path d="M-3.23 0.61 Q-3.13 -7.52 -2.95 -11.49 Q-1.82 -7.55 -1.36 0.56Z" fill="#2E8C2A"/>
<path d="M-7.87 1.06 Q-8.55 -4.64 -10.97 -7.07 Q-7.49 -4.81 -6.36 0.82Z" fill="#176B24"/>
<path d="M6.01 0.55 Q8.87 -5.41 16.82 -7.98 Q9.80 -5.00 7.34 1.13Z" fill="#14602A"/>
<path d="M-6.16 1.03 Q-9.17 -6.40 -16.19 -10.48 Q-8.14 -6.85 -4.69 0.38Z" fill="#1F7A26"/>
<path d="M-2.22 0.11 Q-2.57 -6.10 -3.56 -9.13 Q-1.61 -6.19 -0.85 -0.02Z" fill="#176B24"/>
<path d="M-7.44 0.62 Q-9.16 -6.95 -12.52 -11.51 Q-7.98 -7.26 -5.76 0.18Z" fill="#2E8C2A"/>
<path d="M-4.84 1.14 Q-6.67 -6.74 -9.42 -12.32 Q-5.61 -7.01 -3.33 0.74Z" fill="#2E8C2A"/>
<path d="M-4.48 0.49 Q-5.87 -7.46 -9.13 -11.72 Q-4.52 -7.74 -2.56 0.09Z" fill="#25802A"/>
<path d="M-7.05 0.91 Q-8.43 -7.21 -12.38 -11.07 Q-7.29 -7.44 -5.42 0.59Z" fill="#1F7A26"/>
<path d="M5.23 -0.16 Q8.10 -5.42 12.64 -9.05 Q8.92 -5.01 6.41 0.43Z" fill="#3A9A2E"/>
<path d="M0.06 0.50 Q1.02 -5.09 3.07 -8.21 Q2.04 -4.95 1.52 0.69Z" fill="#176B24"/>
<path d="M-6.88 0.81 Q-8.10 -9.76 -12.12 -14.29 Q-7.17 -9.88 -5.56 0.64Z" fill="#1F7A26"/>
<path d="M-1.58 0.15 Q-2.08 -10.77 -3.62 -15.83 Q-0.72 -10.87 0.36 0.01Z" fill="#176B24"/>
<path d="M-8.79 0.51 Q-11.01 -5.97 -16.67 -9.33 Q-10.01 -6.36 -7.36 -0.04Z" fill="#25802A"/>
<path d="M5.49 0.15 Q7.49 -6.00 11.60 -9.50 Q8.51 -5.71 6.94 0.57Z" fill="#14602A"/>
<path d="M5.79 0.19 Q8.83 -5.67 13.62 -9.75 Q9.98 -5.14 7.44 0.96Z" fill="#176B24"/>
<path d="M-11.69 0.93 Q-13.24 -2.79 -17.43 -4.82 Q-12.01 -3.41 -9.94 0.05Z" fill="#14602A"/>
<path d="M-8.69 1.10 Q-11.41 -2.99 -16.98 -5.59 Q-10.51 -3.66 -7.40 0.14Z" fill="#176B24"/>
<path d="M-9.38 1.26 Q-12.17 -5.64 -16.47 -10.60 Q-10.95 -6.18 -7.64 0.48Z" fill="#176B24"/>
<path d="M-7.59 0.43 Q-8.61 -5.78 -11.83 -8.57 Q-7.60 -5.98 -6.16 0.14Z" fill="#176B24"/>
<path d="M-5.04 0.18 Q-6.54 -8.94 -9.60 -14.22 Q-5.63 -9.11 -3.74 -0.06Z" fill="#176B24"/>
<path d="M7.93 0.02 Q9.48 -3.96 14.40 -5.43 Q10.66 -3.58 9.62 0.56Z" fill="#14602A"/>
<path d="M-9.70 1.16 Q-13.09 -4.07 -19.46 -7.52 Q-12.10 -4.77 -8.28 0.15Z" fill="#14602A"/>
<path d="M-6.06 0.88 Q-7.10 -7.17 -10.02 -11.06 Q-5.86 -7.37 -4.28 0.59Z" fill="#1F7A26"/>
<path d="M-9.75 1.03 Q-11.79 -3.42 -14.53 -6.97 Q-10.67 -4.01 -8.15 0.19Z" fill="#3A9A2E"/>
<path d="M-10.02 0.47 Q-13.08 -5.22 -19.94 -8.53 Q-12.07 -5.82 -8.57 -0.38Z" fill="#25802A"/>
<path d="M5.93 0.43 Q9.92 -5.36 16.03 -9.42 Q10.72 -4.84 7.08 1.17Z" fill="#176B24"/>
<path d="M-6.60 0.28 Q-7.69 -3.95 -9.85 -6.53 Q-6.71 -4.26 -5.19 -0.16Z" fill="#176B24"/>
<path d="M3.51 0.09 Q5.00 -10.32 8.04 -16.47 Q6.25 -10.17 5.29 0.30Z" fill="#14602A"/>
<path d="M-1.69 0.11 Q-1.42 -5.79 -0.78 -8.91 Q-0.25 -5.79 -0.01 0.11Z" fill="#1F7A26"/>
<path d="M3.04 0.32 Q4.74 -4.93 9.19 -7.31 Q5.85 -4.63 4.63 0.76Z" fill="#25802A"/>
<path d="M-1.55 0.60 Q-1.38 -8.76 -1.02 -13.58" fill="none" stroke="#B0DA4E" stroke-width="0.72" stroke-linecap="round"/>
<path d="M-5.38 0.21 Q-9.52 -8.48 -15.88 -14.38" fill="none" stroke="#B0DA4E" stroke-width="0.65" stroke-linecap="round"/>
<path d="M-9.19 0.34 Q-12.87 -6.75 -19.14 -11.14" fill="none" stroke="#B0DA4E" stroke-width="0.69" stroke-linecap="round"/>
<path d="M0.68 0.64 Q0.60 -8.53 0.49 -14.98" fill="none" stroke="#C4E45F" stroke-width="0.77" stroke-linecap="round"/>
<path d="M5.93 0.00 Q8.32 -9.79 13.43 -14.76" fill="none" stroke="#B0DA4E" stroke-width="0.62" stroke-linecap="round"/>
<path d="M-0.42 0.76 Q-1.17 -13.63 -2.62 -21.69" fill="none" stroke="#BADF58" stroke-width="0.73" stroke-linecap="round"/>
<path d="M-6.83 0.26 Q-11.94 -10.22 -20.57 -16.75" fill="none" stroke="#B0DA4E" stroke-width="0.63" stroke-linecap="round"/>
<path d="M1.42 0.61 Q3.26 -8.49 6.08 -14.71" fill="none" stroke="#C4E45F" stroke-width="0.69" stroke-linecap="round"/>
<path d="M8.20 0.21 Q14.24 -9.06 24.21 -14.96" fill="none" stroke="#C4E45F" stroke-width="0.79" stroke-linecap="round"/>
<path d="M-1.96 0.01 Q-2.55 -11.13 -3.98 -16.22" fill="none" stroke="#B0DA4E" stroke-width="0.70" stroke-linecap="round"/>
<path d="M-8.60 0.57 Q-11.97 -9.56 -20.52 -13.97" fill="none" stroke="#CFEA78" stroke-width="0.66" stroke-linecap="round"/>
<path d="M-5.21 0.37 Q-9.20 -7.09 -14.98 -12.42" fill="none" stroke="#CFEA78" stroke-width="0.66" stroke-linecap="round"/>
<path d="M2.92 0.39 Q4.04 -9.21 6.94 -13.33" fill="none" stroke="#B0DA4E" stroke-width="0.55" stroke-linecap="round"/>
<path d="M0.46 0.03 Q-0.06 -8.53 -1.31 -12.50" fill="none" stroke="#CFEA78" stroke-width="0.69" stroke-linecap="round"/>
</g>
<g transform="translate(350.5 637.0) scale(1.03)">
<path d="M-10.47 0.42 Q-15.31 -17.97 -27.40 -26.10" fill="none" stroke="#58AE32" stroke-width="0.84" stroke-linecap="round" opacity="0.9"/>
<path d="M-10.59 0.46 Q-17.80 -9.19 -30.70 -14.90" fill="none" stroke="#C4E45F" stroke-width="0.79" stroke-linecap="round" opacity="0.9"/>
<path d="M-12.00 -0.20 Q-18.49 -6.92 -30.10 -10.90" fill="none" stroke="#B0DA4E" stroke-width="0.72" stroke-linecap="round" opacity="0.9"/>
<path d="M-5.50 -0.08 Q-8.42 -20.54 -14.20 -31.60" fill="none" stroke="#98CE3C" stroke-width="0.78" stroke-linecap="round" opacity="0.9"/>
<path d="M-5.35 -0.16 Q-7.17 -19.45 -10.20 -31.60" fill="none" stroke="#CFEA78" stroke-width="0.80" stroke-linecap="round" opacity="0.9"/>
<path d="M-1.81 -0.18 Q-3.34 -15.86 -5.70 -26.50" fill="none" stroke="#6BBB36" stroke-width="0.84" stroke-linecap="round" opacity="0.9"/>
<path d="M3.61 0.49 Q4.30 -16.85 6.30 -23.50" fill="none" stroke="#B0DA4E" stroke-width="0.67" stroke-linecap="round" opacity="0.9"/>
<path d="M5.20 0.26 Q7.07 -19.47 12.60 -27.00" fill="none" stroke="#BADF58" stroke-width="0.65" stroke-linecap="round" opacity="0.9"/>
<path d="M8.75 -0.03 Q14.73 -12.48 24.90 -20.20" fill="none" stroke="#CFEA78" stroke-width="0.69" stroke-linecap="round" opacity="0.9"/>
<path d="M7.90 -0.00 Q12.66 -11.24 23.30 -16.70" fill="none" stroke="#C4E45F" stroke-width="0.80" stroke-linecap="round" opacity="0.9"/>
<path d="M12.50 -0.24 Q18.91 -8.48 30.80 -13.20" fill="none" stroke="#58AE32" stroke-width="0.69" stroke-linecap="round" opacity="0.9"/>
<path d="M-8.01 0.13 Q-13.42 -17.42 -22.00 -29.00" fill="none" stroke="#B0DA4E" stroke-width="0.78" stroke-linecap="round" opacity="0.9"/>
<path d="M-8.10 0.55 Q-13.77 -13.43 -25.00 -21.00" fill="none" stroke="#C4E45F" stroke-width="0.69" stroke-linecap="round" opacity="0.9"/>
<path d="M7.40 0.03 Q11.57 -14.00 18.00 -23.50" fill="none" stroke="#CFEA78" stroke-width="0.74" stroke-linecap="round" opacity="0.9"/>
<path d="M-1.41 0.26 Q-0.50 -16.70 1.00 -27.50" fill="none" stroke="#B0DA4E" stroke-width="0.84" stroke-linecap="round" opacity="0.9"/>
<path d="M-8.22 0.01 Q-11.33 -18.61 -18.00 -28.00" fill="none" stroke="#8ACB42" stroke-width="0.69" stroke-linecap="round" opacity="0.9"/>
<path d="M4.70 0.23 Q6.17 -18.59 9.00 -29.00" fill="none" stroke="#C4E45F" stroke-width="0.80" stroke-linecap="round" opacity="0.9"/>
<path d="M7.38 0.55 Q11.91 -15.81 20.50 -25.00" fill="none" stroke="#CFEA78" stroke-width="0.62" stroke-linecap="round" opacity="0.9"/>
<path d="M-10.76 0.01 Q-16.19 -12.35 -28.00 -18.50" fill="none" stroke="#B0DA4E" stroke-width="0.83" stroke-linecap="round" opacity="0.9"/>
<path d="M10.05 -0.02 Q15.18 -11.54 27.00 -17.00" fill="none" stroke="#A2D444" stroke-width="0.80" stroke-linecap="round" opacity="0.9"/>
<path d="M-3.92 0.60 Q-7.05 -17.20 -12.00 -29.00" fill="none" stroke="#58AE32" stroke-width="0.64" stroke-linecap="round" opacity="0.9"/>
<path d="M-0.85 0.53 Q-2.61 -20.64 -7.00 -30.00" fill="none" stroke="#98CE3C" stroke-width="0.61" stroke-linecap="round" opacity="0.9"/>
<path d="M0.98 0.11 Q2.15 -16.22 4.00 -27.00" fill="none" stroke="#A2D444" stroke-width="0.71" stroke-linecap="round" opacity="0.9"/>
<path d="M7.66 0.42 Q10.34 -16.96 15.00 -27.50" fill="none" stroke="#C4E45F" stroke-width="0.68" stroke-linecap="round" opacity="0.9"/>
<path d="M-7.67 0.55 Q-12.23 -16.98 -24.00 -24.50" fill="none" stroke="#98CE3C" stroke-width="0.76" stroke-linecap="round" opacity="0.9"/>
<path d="M7.23 0.04 Q12.15 -13.98 22.00 -21.50" fill="none" stroke="#8ACB42" stroke-width="0.61" stroke-linecap="round" opacity="0.9"/>
<path d="M-9.44 0.47 Q-12.90 -16.22 -20.00 -25.00" fill="none" stroke="#98CE3C" stroke-width="0.84" stroke-linecap="round" opacity="0.9"/>
<path d="M-1.25 -0.01 Q-1.82 -19.07 -3.00 -29.00" fill="none" stroke="#BADF58" stroke-width="0.67" stroke-linecap="round" opacity="0.9"/>
<path d="M6.01 0.04 Q7.28 -18.06 11.00 -25.00" fill="none" stroke="#C4E45F" stroke-width="0.85" stroke-linecap="round" opacity="0.9"/>
<path d="M-5.89 0.48 Q-9.15 -19.65 -16.00 -30.00" fill="none" stroke="#CFEA78" stroke-width="0.65" stroke-linecap="round" opacity="0.9"/>
<path d="M-0.03 -0.23 Q-0.05 -13.29 -0.10 -19.39" fill="none" stroke="#58AE32" stroke-width="1.04" stroke-linecap="round"/>
<path d="M2.24 0.47 Q4.36 -11.88 7.95 -19.58" fill="none" stroke="#8ACB42" stroke-width="0.88" stroke-linecap="round"/>
<path d="M11.53 0.07 Q17.13 -5.98 25.06 -10.40" fill="none" stroke="#B0DA4E" stroke-width="0.85" stroke-linecap="round"/>
<path d="M1.45 0.21 Q1.73 -10.84 2.37 -16.08" fill="none" stroke="#C4E45F" stroke-width="1.05" stroke-linecap="round"/>
<path d="M-3.98 0.73 Q-5.81 -8.59 -8.71 -14.75" fill="none" stroke="#B0DA4E" stroke-width="0.92" stroke-linecap="round"/>
<path d="M6.29 0.07 Q10.10 -7.36 16.23 -12.19" fill="none" stroke="#6BBB36" stroke-width="0.84" stroke-linecap="round"/>
<path d="M-4.18 -0.21 Q-6.61 -12.31 -10.46 -20.30" fill="none" stroke="#8ACB42" stroke-width="1.00" stroke-linecap="round"/>
<path d="M6.07 0.16 Q8.41 -10.85 14.72 -15.39" fill="none" stroke="#B0DA4E" stroke-width="0.99" stroke-linecap="round"/>
<path d="M-6.44 0.35 Q-10.23 -11.61 -16.45 -19.28" fill="none" stroke="#6BBB36" stroke-width="0.99" stroke-linecap="round"/>
<path d="M1.07 0.22 Q2.69 -12.70 7.15 -17.93" fill="none" stroke="#7DC63C" stroke-width="0.87" stroke-linecap="round"/>
<path d="M-8.19 0.30 Q-13.18 -8.64 -22.37 -13.81" fill="none" stroke="#58AE32" stroke-width="0.92" stroke-linecap="round"/>
<path d="M0.57 0.69 Q1.46 -13.37 4.05 -18.82" fill="none" stroke="#8ACB42" stroke-width="0.80" stroke-linecap="round"/>
<path d="M7.70 0.30 Q11.46 -10.24 19.73 -15.45" fill="none" stroke="#4FA62E" stroke-width="1.09" stroke-linecap="round"/>
<path d="M-9.23 0.34 Q-13.88 -6.27 -21.02 -10.76" fill="none" stroke="#B0DA4E" stroke-width="1.09" stroke-linecap="round"/>
<path d="M-1.96 0.21 Q-3.21 -12.07 -5.85 -18.36" fill="none" stroke="#8ACB42" stroke-width="0.85" stroke-linecap="round"/>
<path d="M9.31 0.09 Q14.53 -7.95 24.14 -12.59" fill="none" stroke="#7DC63C" stroke-width="1.07" stroke-linecap="round"/>
<path d="M-3.61 0.06 Q-6.36 -12.68 -11.40 -20.06" fill="none" stroke="#4FA62E" stroke-width="1.06" stroke-linecap="round"/>
<path d="M-2.75 0.77 Q-3.42 -10.72 -5.30 -15.30" fill="none" stroke="#B0DA4E" stroke-width="0.91" stroke-linecap="round"/>
<path d="M3.97 0.25 Q4.59 -11.24 6.37 -15.71" fill="none" stroke="#58AE32" stroke-width="0.92" stroke-linecap="round"/>
<path d="M-5.97 -0.27 Q-9.15 -12.19 -14.45 -19.71" fill="none" stroke="#8ACB42" stroke-width="1.00" stroke-linecap="round"/>
<path d="M-10.05 0.23 Q-12.58 -5.03 -19.83 -7.09" fill="none" stroke="#6BBB36" stroke-width="0.97" stroke-linecap="round"/>
<path d="M4.12 -0.13 Q6.49 -8.26 11.25 -12.62" fill="none" stroke="#58AE32" stroke-width="1.10" stroke-linecap="round"/>
<path d="M11.29 0.67 Q14.85 -6.04 23.64 -9.03" fill="none" stroke="#7DC63C" stroke-width="1.07" stroke-linecap="round"/>
<path d="M-5.14 0.03 Q-7.70 -10.10 -12.31 -16.06" fill="none" stroke="#8ACB42" stroke-width="0.96" stroke-linecap="round"/>
<path d="M0.25 -0.09 Q1.65 -10.71 5.75 -15.25 Q2.82 -10.59 1.93 0.09Z" fill="#14602A"/>
<path d="M3.65 0.53 Q6.09 -6.11 12.13 -9.30 Q7.15 -5.77 5.17 1.03Z" fill="#25802A"/>
<path d="M9.10 0.56 Q11.71 -5.91 19.13 -8.68 Q12.79 -5.53 10.64 1.12Z" fill="#14602A"/>
<path d="M-5.53 0.33 Q-6.83 -5.18 -10.47 -7.93 Q-5.57 -5.55 -3.72 -0.20Z" fill="#14602A"/>
<path d="M0.20 0.28 Q0.89 -9.45 2.46 -14.74 Q1.88 -9.40 1.61 0.35Z" fill="#14602A"/>
<path d="M-3.23 0.61 Q-3.13 -7.52 -2.95 -11.49 Q-1.82 -7.55 -1.36 0.56Z" fill="#2E8C2A"/>
<path d="M-7.87 1.06 Q-8.55 -4.64 -10.97 -7.07 Q-7.49 -4.81 -6.36 0.82Z" fill="#176B24"/>
<path d="M6.01 0.55 Q8.87 -5.41 16.82 -7.98 Q9.80 -5.00 7.34 1.13Z" fill="#14602A"/>
<path d="M-6.16 1.03 Q-9.17 -6.40 -16.19 -10.48 Q-8.14 -6.85 -4.69 0.38Z" fill="#1F7A26"/>
<path d="M-2.22 0.11 Q-2.57 -6.10 -3.56 -9.13 Q-1.61 -6.19 -0.85 -0.02Z" fill="#176B24"/>
<path d="M-7.44 0.62 Q-9.16 -6.95 -12.52 -11.51 Q-7.98 -7.26 -5.76 0.18Z" fill="#2E8C2A"/>
<path d="M-4.84 1.14 Q-6.67 -6.74 -9.42 -12.32 Q-5.61 -7.01 -3.33 0.74Z" fill="#2E8C2A"/>
<path d="M-4.48 0.49 Q-5.87 -7.46 -9.13 -11.72 Q-4.52 -7.74 -2.56 0.09Z" fill="#25802A"/>
<path d="M-7.05 0.91 Q-8.43 -7.21 -12.38 -11.07 Q-7.29 -7.44 -5.42 0.59Z" fill="#1F7A26"/>
<path d="M5.23 -0.16 Q8.10 -5.42 12.64 -9.05 Q8.92 -5.01 6.41 0.43Z" fill="#3A9A2E"/>
<path d="M0.06 0.50 Q1.02 -5.09 3.07 -8.21 Q2.04 -4.95 1.52 0.69Z" fill="#176B24"/>
<path d="M-6.88 0.81 Q-8.10 -9.76 -12.12 -14.29 Q-7.17 -9.88 -5.56 0.64Z" fill="#1F7A26"/>
<path d="M-1.58 0.15 Q-2.08 -10.77 -3.62 -15.83 Q-0.72 -10.87 0.36 0.01Z" fill="#176B24"/>
<path d="M-8.79 0.51 Q-11.01 -5.97 -16.67 -9.33 Q-10.01 -6.36 -7.36 -0.04Z" fill="#25802A"/>
<path d="M5.49 0.15 Q7.49 -6.00 11.60 -9.50 Q8.51 -5.71 6.94 0.57Z" fill="#14602A"/>
<path d="M5.79 0.19 Q8.83 -5.67 13.62 -9.75 Q9.98 -5.14 7.44 0.96Z" fill="#176B24"/>
<path d="M-11.69 0.93 Q-13.24 -2.79 -17.43 -4.82 Q-12.01 -3.41 -9.94 0.05Z" fill="#14602A"/>
<path d="M-8.69 1.10 Q-11.41 -2.99 -16.98 -5.59 Q-10.51 -3.66 -7.40 0.14Z" fill="#176B24"/>
<path d="M-9.38 1.26 Q-12.17 -5.64 -16.47 -10.60 Q-10.95 -6.18 -7.64 0.48Z" fill="#176B24"/>
<path d="M-7.59 0.43 Q-8.61 -5.78 -11.83 -8.57 Q-7.60 -5.98 -6.16 0.14Z" fill="#176B24"/>
<path d="M-5.04 0.18 Q-6.54 -8.94 -9.60 -14.22 Q-5.63 -9.11 -3.74 -0.06Z" fill="#176B24"/>
<path d="M7.93 0.02 Q9.48 -3.96 14.40 -5.43 Q10.66 -3.58 9.62 0.56Z" fill="#14602A"/>
<path d="M-9.70 1.16 Q-13.09 -4.07 -19.46 -7.52 Q-12.10 -4.77 -8.28 0.15Z" fill="#14602A"/>
<path d="M-6.06 0.88 Q-7.10 -7.17 -10.02 -11.06 Q-5.86 -7.37 -4.28 0.59Z" fill="#1F7A26"/>
<path d="M-9.75 1.03 Q-11.79 -3.42 -14.53 -6.97 Q-10.67 -4.01 -8.15 0.19Z" fill="#3A9A2E"/>
<path d="M-10.02 0.47 Q-13.08 -5.22 -19.94 -8.53 Q-12.07 -5.82 -8.57 -0.38Z" fill="#25802A"/>
<path d="M5.93 0.43 Q9.92 -5.36 16.03 -9.42 Q10.72 -4.84 7.08 1.17Z" fill="#176B24"/>
<path d="M-6.60 0.28 Q-7.69 -3.95 -9.85 -6.53 Q-6.71 -4.26 -5.19 -0.16Z" fill="#176B24"/>
<path d="M3.51 0.09 Q5.00 -10.32 8.04 -16.47 Q6.25 -10.17 5.29 0.30Z" fill="#14602A"/>
<path d="M-1.69 0.11 Q-1.42 -5.79 -0.78 -8.91 Q-0.25 -5.79 -0.01 0.11Z" fill="#1F7A26"/>
<path d="M3.04 0.32 Q4.74 -4.93 9.19 -7.31 Q5.85 -4.63 4.63 0.76Z" fill="#25802A"/>
<path d="M-1.55 0.60 Q-1.38 -8.76 -1.02 -13.58" fill="none" stroke="#B0DA4E" stroke-width="0.72" stroke-linecap="round"/>
<path d="M-5.38 0.21 Q-9.52 -8.48 -15.88 -14.38" fill="none" stroke="#B0DA4E" stroke-width="0.65" stroke-linecap="round"/>
<path d="M-9.19 0.34 Q-12.87 -6.75 -19.14 -11.14" fill="none" stroke="#B0DA4E" stroke-width="0.69" stroke-linecap="round"/>
<path d="M0.68 0.64 Q0.60 -8.53 0.49 -14.98" fill="none" stroke="#C4E45F" stroke-width="0.77" stroke-linecap="round"/>
<path d="M5.93 0.00 Q8.32 -9.79 13.43 -14.76" fill="none" stroke="#B0DA4E" stroke-width="0.62" stroke-linecap="round"/>
<path d="M-0.42 0.76 Q-1.17 -13.63 -2.62 -21.69" fill="none" stroke="#BADF58" stroke-width="0.73" stroke-linecap="round"/>
<path d="M-6.83 0.26 Q-11.94 -10.22 -20.57 -16.75" fill="none" stroke="#B0DA4E" stroke-width="0.63" stroke-linecap="round"/>
<path d="M1.42 0.61 Q3.26 -8.49 6.08 -14.71" fill="none" stroke="#C4E45F" stroke-width="0.69" stroke-linecap="round"/>
<path d="M8.20 0.21 Q14.24 -9.06 24.21 -14.96" fill="none" stroke="#C4E45F" stroke-width="0.79" stroke-linecap="round"/>
<path d="M-1.96 0.01 Q-2.55 -11.13 -3.98 -16.22" fill="none" stroke="#B0DA4E" stroke-width="0.70" stroke-linecap="round"/>
<path d="M-8.60 0.57 Q-11.97 -9.56 -20.52 -13.97" fill="none" stroke="#CFEA78" stroke-width="0.66" stroke-linecap="round"/>
<path d="M-5.21 0.37 Q-9.20 -7.09 -14.98 -12.42" fill="none" stroke="#CFEA78" stroke-width="0.66" stroke-linecap="round"/>
<path d="M2.92 0.39 Q4.04 -9.21 6.94 -13.33" fill="none" stroke="#B0DA4E" stroke-width="0.55" stroke-linecap="round"/>
<path d="M0.46 0.03 Q-0.06 -8.53 -1.31 -12.50" fill="none" stroke="#CFEA78" stroke-width="0.69" stroke-linecap="round"/>
</g>
<g transform="translate(747.8 630.6) scale(1.0)">
<path d="M-10.47 0.42 Q-15.31 -17.97 -27.40 -26.10" fill="none" stroke="#58AE32" stroke-width="0.84" stroke-linecap="round" opacity="0.9"/>
<path d="M-10.59 0.46 Q-17.80 -9.19 -30.70 -14.90" fill="none" stroke="#C4E45F" stroke-width="0.79" stroke-linecap="round" opacity="0.9"/>
<path d="M-12.00 -0.20 Q-18.49 -6.92 -30.10 -10.90" fill="none" stroke="#B0DA4E" stroke-width="0.72" stroke-linecap="round" opacity="0.9"/>
<path d="M-5.50 -0.08 Q-8.42 -20.54 -14.20 -31.60" fill="none" stroke="#98CE3C" stroke-width="0.78" stroke-linecap="round" opacity="0.9"/>
<path d="M-5.35 -0.16 Q-7.17 -19.45 -10.20 -31.60" fill="none" stroke="#CFEA78" stroke-width="0.80" stroke-linecap="round" opacity="0.9"/>
<path d="M-1.81 -0.18 Q-3.34 -15.86 -5.70 -26.50" fill="none" stroke="#6BBB36" stroke-width="0.84" stroke-linecap="round" opacity="0.9"/>
<path d="M3.61 0.49 Q4.30 -16.85 6.30 -23.50" fill="none" stroke="#B0DA4E" stroke-width="0.67" stroke-linecap="round" opacity="0.9"/>
<path d="M5.20 0.26 Q7.07 -19.47 12.60 -27.00" fill="none" stroke="#BADF58" stroke-width="0.65" stroke-linecap="round" opacity="0.9"/>
<path d="M8.75 -0.03 Q14.73 -12.48 24.90 -20.20" fill="none" stroke="#CFEA78" stroke-width="0.69" stroke-linecap="round" opacity="0.9"/>
<path d="M7.90 -0.00 Q12.66 -11.24 23.30 -16.70" fill="none" stroke="#C4E45F" stroke-width="0.80" stroke-linecap="round" opacity="0.9"/>
<path d="M12.50 -0.24 Q18.91 -8.48 30.80 -13.20" fill="none" stroke="#58AE32" stroke-width="0.69" stroke-linecap="round" opacity="0.9"/>
<path d="M-8.01 0.13 Q-13.42 -17.42 -22.00 -29.00" fill="none" stroke="#B0DA4E" stroke-width="0.78" stroke-linecap="round" opacity="0.9"/>
<path d="M-8.10 0.55 Q-13.77 -13.43 -25.00 -21.00" fill="none" stroke="#C4E45F" stroke-width="0.69" stroke-linecap="round" opacity="0.9"/>
<path d="M7.40 0.03 Q11.57 -14.00 18.00 -23.50" fill="none" stroke="#CFEA78" stroke-width="0.74" stroke-linecap="round" opacity="0.9"/>
<path d="M-1.41 0.26 Q-0.50 -16.70 1.00 -27.50" fill="none" stroke="#B0DA4E" stroke-width="0.84" stroke-linecap="round" opacity="0.9"/>
<path d="M-8.22 0.01 Q-11.33 -18.61 -18.00 -28.00" fill="none" stroke="#8ACB42" stroke-width="0.69" stroke-linecap="round" opacity="0.9"/>
<path d="M4.70 0.23 Q6.17 -18.59 9.00 -29.00" fill="none" stroke="#C4E45F" stroke-width="0.80" stroke-linecap="round" opacity="0.9"/>
<path d="M7.38 0.55 Q11.91 -15.81 20.50 -25.00" fill="none" stroke="#CFEA78" stroke-width="0.62" stroke-linecap="round" opacity="0.9"/>
<path d="M-10.76 0.01 Q-16.19 -12.35 -28.00 -18.50" fill="none" stroke="#B0DA4E" stroke-width="0.83" stroke-linecap="round" opacity="0.9"/>
<path d="M10.05 -0.02 Q15.18 -11.54 27.00 -17.00" fill="none" stroke="#A2D444" stroke-width="0.80" stroke-linecap="round" opacity="0.9"/>
<path d="M-3.92 0.60 Q-7.05 -17.20 -12.00 -29.00" fill="none" stroke="#58AE32" stroke-width="0.64" stroke-linecap="round" opacity="0.9"/>
<path d="M-0.85 0.53 Q-2.61 -20.64 -7.00 -30.00" fill="none" stroke="#98CE3C" stroke-width="0.61" stroke-linecap="round" opacity="0.9"/>
<path d="M0.98 0.11 Q2.15 -16.22 4.00 -27.00" fill="none" stroke="#A2D444" stroke-width="0.71" stroke-linecap="round" opacity="0.9"/>
<path d="M7.66 0.42 Q10.34 -16.96 15.00 -27.50" fill="none" stroke="#C4E45F" stroke-width="0.68" stroke-linecap="round" opacity="0.9"/>
<path d="M-7.67 0.55 Q-12.23 -16.98 -24.00 -24.50" fill="none" stroke="#98CE3C" stroke-width="0.76" stroke-linecap="round" opacity="0.9"/>
<path d="M7.23 0.04 Q12.15 -13.98 22.00 -21.50" fill="none" stroke="#8ACB42" stroke-width="0.61" stroke-linecap="round" opacity="0.9"/>
<path d="M-9.44 0.47 Q-12.90 -16.22 -20.00 -25.00" fill="none" stroke="#98CE3C" stroke-width="0.84" stroke-linecap="round" opacity="0.9"/>
<path d="M-1.25 -0.01 Q-1.82 -19.07 -3.00 -29.00" fill="none" stroke="#BADF58" stroke-width="0.67" stroke-linecap="round" opacity="0.9"/>
<path d="M6.01 0.04 Q7.28 -18.06 11.00 -25.00" fill="none" stroke="#C4E45F" stroke-width="0.85" stroke-linecap="round" opacity="0.9"/>
<path d="M-5.89 0.48 Q-9.15 -19.65 -16.00 -30.00" fill="none" stroke="#CFEA78" stroke-width="0.65" stroke-linecap="round" opacity="0.9"/>
<path d="M-0.03 -0.23 Q-0.05 -13.29 -0.10 -19.39" fill="none" stroke="#58AE32" stroke-width="1.04" stroke-linecap="round"/>
<path d="M2.24 0.47 Q4.36 -11.88 7.95 -19.58" fill="none" stroke="#8ACB42" stroke-width="0.88" stroke-linecap="round"/>
<path d="M11.53 0.07 Q17.13 -5.98 25.06 -10.40" fill="none" stroke="#B0DA4E" stroke-width="0.85" stroke-linecap="round"/>
<path d="M1.45 0.21 Q1.73 -10.84 2.37 -16.08" fill="none" stroke="#C4E45F" stroke-width="1.05" stroke-linecap="round"/>
<path d="M-3.98 0.73 Q-5.81 -8.59 -8.71 -14.75" fill="none" stroke="#B0DA4E" stroke-width="0.92" stroke-linecap="round"/>
<path d="M6.29 0.07 Q10.10 -7.36 16.23 -12.19" fill="none" stroke="#6BBB36" stroke-width="0.84" stroke-linecap="round"/>
<path d="M-4.18 -0.21 Q-6.61 -12.31 -10.46 -20.30" fill="none" stroke="#8ACB42" stroke-width="1.00" stroke-linecap="round"/>
<path d="M6.07 0.16 Q8.41 -10.85 14.72 -15.39" fill="none" stroke="#B0DA4E" stroke-width="0.99" stroke-linecap="round"/>
<path d="M-6.44 0.35 Q-10.23 -11.61 -16.45 -19.28" fill="none" stroke="#6BBB36" stroke-width="0.99" stroke-linecap="round"/>
<path d="M1.07 0.22 Q2.69 -12.70 7.15 -17.93" fill="none" stroke="#7DC63C" stroke-width="0.87" stroke-linecap="round"/>
<path d="M-8.19 0.30 Q-13.18 -8.64 -22.37 -13.81" fill="none" stroke="#58AE32" stroke-width="0.92" stroke-linecap="round"/>
<path d="M0.57 0.69 Q1.46 -13.37 4.05 -18.82" fill="none" stroke="#8ACB42" stroke-width="0.80" stroke-linecap="round"/>
<path d="M7.70 0.30 Q11.46 -10.24 19.73 -15.45" fill="none" stroke="#4FA62E" stroke-width="1.09" stroke-linecap="round"/>
<path d="M-9.23 0.34 Q-13.88 -6.27 -21.02 -10.76" fill="none" stroke="#B0DA4E" stroke-width="1.09" stroke-linecap="round"/>
<path d="M-1.96 0.21 Q-3.21 -12.07 -5.85 -18.36" fill="none" stroke="#8ACB42" stroke-width="0.85" stroke-linecap="round"/>
<path d="M9.31 0.09 Q14.53 -7.95 24.14 -12.59" fill="none" stroke="#7DC63C" stroke-width="1.07" stroke-linecap="round"/>
<path d="M-3.61 0.06 Q-6.36 -12.68 -11.40 -20.06" fill="none" stroke="#4FA62E" stroke-width="1.06" stroke-linecap="round"/>
<path d="M-2.75 0.77 Q-3.42 -10.72 -5.30 -15.30" fill="none" stroke="#B0DA4E" stroke-width="0.91" stroke-linecap="round"/>
<path d="M3.97 0.25 Q4.59 -11.24 6.37 -15.71" fill="none" stroke="#58AE32" stroke-width="0.92" stroke-linecap="round"/>
<path d="M-5.97 -0.27 Q-9.15 -12.19 -14.45 -19.71" fill="none" stroke="#8ACB42" stroke-width="1.00" stroke-linecap="round"/>
<path d="M-10.05 0.23 Q-12.58 -5.03 -19.83 -7.09" fill="none" stroke="#6BBB36" stroke-width="0.97" stroke-linecap="round"/>
<path d="M4.12 -0.13 Q6.49 -8.26 11.25 -12.62" fill="none" stroke="#58AE32" stroke-width="1.10" stroke-linecap="round"/>
<path d="M11.29 0.67 Q14.85 -6.04 23.64 -9.03" fill="none" stroke="#7DC63C" stroke-width="1.07" stroke-linecap="round"/>
<path d="M-5.14 0.03 Q-7.70 -10.10 -12.31 -16.06" fill="none" stroke="#8ACB42" stroke-width="0.96" stroke-linecap="round"/>
<path d="M0.25 -0.09 Q1.65 -10.71 5.75 -15.25 Q2.82 -10.59 1.93 0.09Z" fill="#14602A"/>
<path d="M3.65 0.53 Q6.09 -6.11 12.13 -9.30 Q7.15 -5.77 5.17 1.03Z" fill="#25802A"/>
<path d="M9.10 0.56 Q11.71 -5.91 19.13 -8.68 Q12.79 -5.53 10.64 1.12Z" fill="#14602A"/>
<path d="M-5.53 0.33 Q-6.83 -5.18 -10.47 -7.93 Q-5.57 -5.55 -3.72 -0.20Z" fill="#14602A"/>
<path d="M0.20 0.28 Q0.89 -9.45 2.46 -14.74 Q1.88 -9.40 1.61 0.35Z" fill="#14602A"/>
<path d="M-3.23 0.61 Q-3.13 -7.52 -2.95 -11.49 Q-1.82 -7.55 -1.36 0.56Z" fill="#2E8C2A"/>
<path d="M-7.87 1.06 Q-8.55 -4.64 -10.97 -7.07 Q-7.49 -4.81 -6.36 0.82Z" fill="#176B24"/>
<path d="M6.01 0.55 Q8.87 -5.41 16.82 -7.98 Q9.80 -5.00 7.34 1.13Z" fill="#14602A"/>
<path d="M-6.16 1.03 Q-9.17 -6.40 -16.19 -10.48 Q-8.14 -6.85 -4.69 0.38Z" fill="#1F7A26"/>
<path d="M-2.22 0.11 Q-2.57 -6.10 -3.56 -9.13 Q-1.61 -6.19 -0.85 -0.02Z" fill="#176B24"/>
<path d="M-7.44 0.62 Q-9.16 -6.95 -12.52 -11.51 Q-7.98 -7.26 -5.76 0.18Z" fill="#2E8C2A"/>
<path d="M-4.84 1.14 Q-6.67 -6.74 -9.42 -12.32 Q-5.61 -7.01 -3.33 0.74Z" fill="#2E8C2A"/>
<path d="M-4.48 0.49 Q-5.87 -7.46 -9.13 -11.72 Q-4.52 -7.74 -2.56 0.09Z" fill="#25802A"/>
<path d="M-7.05 0.91 Q-8.43 -7.21 -12.38 -11.07 Q-7.29 -7.44 -5.42 0.59Z" fill="#1F7A26"/>
<path d="M5.23 -0.16 Q8.10 -5.42 12.64 -9.05 Q8.92 -5.01 6.41 0.43Z" fill="#3A9A2E"/>
<path d="M0.06 0.50 Q1.02 -5.09 3.07 -8.21 Q2.04 -4.95 1.52 0.69Z" fill="#176B24"/>
<path d="M-6.88 0.81 Q-8.10 -9.76 -12.12 -14.29 Q-7.17 -9.88 -5.56 0.64Z" fill="#1F7A26"/>
<path d="M-1.58 0.15 Q-2.08 -10.77 -3.62 -15.83 Q-0.72 -10.87 0.36 0.01Z" fill="#176B24"/>
<path d="M-8.79 0.51 Q-11.01 -5.97 -16.67 -9.33 Q-10.01 -6.36 -7.36 -0.04Z" fill="#25802A"/>
<path d="M5.49 0.15 Q7.49 -6.00 11.60 -9.50 Q8.51 -5.71 6.94 0.57Z" fill="#14602A"/>
<path d="M5.79 0.19 Q8.83 -5.67 13.62 -9.75 Q9.98 -5.14 7.44 0.96Z" fill="#176B24"/>
<path d="M-11.69 0.93 Q-13.24 -2.79 -17.43 -4.82 Q-12.01 -3.41 -9.94 0.05Z" fill="#14602A"/>
<path d="M-8.69 1.10 Q-11.41 -2.99 -16.98 -5.59 Q-10.51 -3.66 -7.40 0.14Z" fill="#176B24"/>
<path d="M-9.38 1.26 Q-12.17 -5.64 -16.47 -10.60 Q-10.95 -6.18 -7.64 0.48Z" fill="#176B24"/>
<path d="M-7.59 0.43 Q-8.61 -5.78 -11.83 -8.57 Q-7.60 -5.98 -6.16 0.14Z" fill="#176B24"/>
<path d="M-5.04 0.18 Q-6.54 -8.94 -9.60 -14.22 Q-5.63 -9.11 -3.74 -0.06Z" fill="#176B24"/>
<path d="M7.93 0.02 Q9.48 -3.96 14.40 -5.43 Q10.66 -3.58 9.62 0.56Z" fill="#14602A"/>
<path d="M-9.70 1.16 Q-13.09 -4.07 -19.46 -7.52 Q-12.10 -4.77 -8.28 0.15Z" fill="#14602A"/>
<path d="M-6.06 0.88 Q-7.10 -7.17 -10.02 -11.06 Q-5.86 -7.37 -4.28 0.59Z" fill="#1F7A26"/>
<path d="M-9.75 1.03 Q-11.79 -3.42 -14.53 -6.97 Q-10.67 -4.01 -8.15 0.19Z" fill="#3A9A2E"/>
<path d="M-10.02 0.47 Q-13.08 -5.22 -19.94 -8.53 Q-12.07 -5.82 -8.57 -0.38Z" fill="#25802A"/>
<path d="M5.93 0.43 Q9.92 -5.36 16.03 -9.42 Q10.72 -4.84 7.08 1.17Z" fill="#176B24"/>
<path d="M-6.60 0.28 Q-7.69 -3.95 -9.85 -6.53 Q-6.71 -4.26 -5.19 -0.16Z" fill="#176B24"/>
<path d="M3.51 0.09 Q5.00 -10.32 8.04 -16.47 Q6.25 -10.17 5.29 0.30Z" fill="#14602A"/>
<path d="M-1.69 0.11 Q-1.42 -5.79 -0.78 -8.91 Q-0.25 -5.79 -0.01 0.11Z" fill="#1F7A26"/>
<path d="M3.04 0.32 Q4.74 -4.93 9.19 -7.31 Q5.85 -4.63 4.63 0.76Z" fill="#25802A"/>
<path d="M-1.55 0.60 Q-1.38 -8.76 -1.02 -13.58" fill="none" stroke="#B0DA4E" stroke-width="0.72" stroke-linecap="round"/>
<path d="M-5.38 0.21 Q-9.52 -8.48 -15.88 -14.38" fill="none" stroke="#B0DA4E" stroke-width="0.65" stroke-linecap="round"/>
<path d="M-9.19 0.34 Q-12.87 -6.75 -19.14 -11.14" fill="none" stroke="#B0DA4E" stroke-width="0.69" stroke-linecap="round"/>
<path d="M0.68 0.64 Q0.60 -8.53 0.49 -14.98" fill="none" stroke="#C4E45F" stroke-width="0.77" stroke-linecap="round"/>
<path d="M5.93 0.00 Q8.32 -9.79 13.43 -14.76" fill="none" stroke="#B0DA4E" stroke-width="0.62" stroke-linecap="round"/>
<path d="M-0.42 0.76 Q-1.17 -13.63 -2.62 -21.69" fill="none" stroke="#BADF58" stroke-width="0.73" stroke-linecap="round"/>
<path d="M-6.83 0.26 Q-11.94 -10.22 -20.57 -16.75" fill="none" stroke="#B0DA4E" stroke-width="0.63" stroke-linecap="round"/>
<path d="M1.42 0.61 Q3.26 -8.49 6.08 -14.71" fill="none" stroke="#C4E45F" stroke-width="0.69" stroke-linecap="round"/>
<path d="M8.20 0.21 Q14.24 -9.06 24.21 -14.96" fill="none" stroke="#C4E45F" stroke-width="0.79" stroke-linecap="round"/>
<path d="M-1.96 0.01 Q-2.55 -11.13 -3.98 -16.22" fill="none" stroke="#B0DA4E" stroke-width="0.70" stroke-linecap="round"/>
<path d="M-8.60 0.57 Q-11.97 -9.56 -20.52 -13.97" fill="none" stroke="#CFEA78" stroke-width="0.66" stroke-linecap="round"/>
<path d="M-5.21 0.37 Q-9.20 -7.09 -14.98 -12.42" fill="none" stroke="#CFEA78" stroke-width="0.66" stroke-linecap="round"/>
<path d="M2.92 0.39 Q4.04 -9.21 6.94 -13.33" fill="none" stroke="#B0DA4E" stroke-width="0.55" stroke-linecap="round"/>
<path d="M0.46 0.03 Q-0.06 -8.53 -1.31 -12.50" fill="none" stroke="#CFEA78" stroke-width="0.69" stroke-linecap="round"/>
</g>
<g transform="translate(809.6 626.1) scale(1.0)">
<path d="M-10.47 0.42 Q-15.31 -17.97 -27.40 -26.10" fill="none" stroke="#58AE32" stroke-width="0.84" stroke-linecap="round" opacity="0.9"/>
<path d="M-10.59 0.46 Q-17.80 -9.19 -30.70 -14.90" fill="none" stroke="#C4E45F" stroke-width="0.79" stroke-linecap="round" opacity="0.9"/>
<path d="M-12.00 -0.20 Q-18.49 -6.92 -30.10 -10.90" fill="none" stroke="#B0DA4E" stroke-width="0.72" stroke-linecap="round" opacity="0.9"/>
<path d="M-5.50 -0.08 Q-8.42 -20.54 -14.20 -31.60" fill="none" stroke="#98CE3C" stroke-width="0.78" stroke-linecap="round" opacity="0.9"/>
<path d="M-5.35 -0.16 Q-7.17 -19.45 -10.20 -31.60" fill="none" stroke="#CFEA78" stroke-width="0.80" stroke-linecap="round" opacity="0.9"/>
<path d="M-1.81 -0.18 Q-3.34 -15.86 -5.70 -26.50" fill="none" stroke="#6BBB36" stroke-width="0.84" stroke-linecap="round" opacity="0.9"/>
<path d="M3.61 0.49 Q4.30 -16.85 6.30 -23.50" fill="none" stroke="#B0DA4E" stroke-width="0.67" stroke-linecap="round" opacity="0.9"/>
<path d="M5.20 0.26 Q7.07 -19.47 12.60 -27.00" fill="none" stroke="#BADF58" stroke-width="0.65" stroke-linecap="round" opacity="0.9"/>
<path d="M8.75 -0.03 Q14.73 -12.48 24.90 -20.20" fill="none" stroke="#CFEA78" stroke-width="0.69" stroke-linecap="round" opacity="0.9"/>
<path d="M7.90 -0.00 Q12.66 -11.24 23.30 -16.70" fill="none" stroke="#C4E45F" stroke-width="0.80" stroke-linecap="round" opacity="0.9"/>
<path d="M12.50 -0.24 Q18.91 -8.48 30.80 -13.20" fill="none" stroke="#58AE32" stroke-width="0.69" stroke-linecap="round" opacity="0.9"/>
<path d="M-8.01 0.13 Q-13.42 -17.42 -22.00 -29.00" fill="none" stroke="#B0DA4E" stroke-width="0.78" stroke-linecap="round" opacity="0.9"/>
<path d="M-8.10 0.55 Q-13.77 -13.43 -25.00 -21.00" fill="none" stroke="#C4E45F" stroke-width="0.69" stroke-linecap="round" opacity="0.9"/>
<path d="M7.40 0.03 Q11.57 -14.00 18.00 -23.50" fill="none" stroke="#CFEA78" stroke-width="0.74" stroke-linecap="round" opacity="0.9"/>
<path d="M-1.41 0.26 Q-0.50 -16.70 1.00 -27.50" fill="none" stroke="#B0DA4E" stroke-width="0.84" stroke-linecap="round" opacity="0.9"/>
<path d="M-8.22 0.01 Q-11.33 -18.61 -18.00 -28.00" fill="none" stroke="#8ACB42" stroke-width="0.69" stroke-linecap="round" opacity="0.9"/>
<path d="M4.70 0.23 Q6.17 -18.59 9.00 -29.00" fill="none" stroke="#C4E45F" stroke-width="0.80" stroke-linecap="round" opacity="0.9"/>
<path d="M7.38 0.55 Q11.91 -15.81 20.50 -25.00" fill="none" stroke="#CFEA78" stroke-width="0.62" stroke-linecap="round" opacity="0.9"/>
<path d="M-10.76 0.01 Q-16.19 -12.35 -28.00 -18.50" fill="none" stroke="#B0DA4E" stroke-width="0.83" stroke-linecap="round" opacity="0.9"/>
<path d="M10.05 -0.02 Q15.18 -11.54 27.00 -17.00" fill="none" stroke="#A2D444" stroke-width="0.80" stroke-linecap="round" opacity="0.9"/>
<path d="M-3.92 0.60 Q-7.05 -17.20 -12.00 -29.00" fill="none" stroke="#58AE32" stroke-width="0.64" stroke-linecap="round" opacity="0.9"/>
<path d="M-0.85 0.53 Q-2.61 -20.64 -7.00 -30.00" fill="none" stroke="#98CE3C" stroke-width="0.61" stroke-linecap="round" opacity="0.9"/>
<path d="M0.98 0.11 Q2.15 -16.22 4.00 -27.00" fill="none" stroke="#A2D444" stroke-width="0.71" stroke-linecap="round" opacity="0.9"/>
<path d="M7.66 0.42 Q10.34 -16.96 15.00 -27.50" fill="none" stroke="#C4E45F" stroke-width="0.68" stroke-linecap="round" opacity="0.9"/>
<path d="M-7.67 0.55 Q-12.23 -16.98 -24.00 -24.50" fill="none" stroke="#98CE3C" stroke-width="0.76" stroke-linecap="round" opacity="0.9"/>
<path d="M7.23 0.04 Q12.15 -13.98 22.00 -21.50" fill="none" stroke="#8ACB42" stroke-width="0.61" stroke-linecap="round" opacity="0.9"/>
<path d="M-9.44 0.47 Q-12.90 -16.22 -20.00 -25.00" fill="none" stroke="#98CE3C" stroke-width="0.84" stroke-linecap="round" opacity="0.9"/>
<path d="M-1.25 -0.01 Q-1.82 -19.07 -3.00 -29.00" fill="none" stroke="#BADF58" stroke-width="0.67" stroke-linecap="round" opacity="0.9"/>
<path d="M6.01 0.04 Q7.28 -18.06 11.00 -25.00" fill="none" stroke="#C4E45F" stroke-width="0.85" stroke-linecap="round" opacity="0.9"/>
<path d="M-5.89 0.48 Q-9.15 -19.65 -16.00 -30.00" fill="none" stroke="#CFEA78" stroke-width="0.65" stroke-linecap="round" opacity="0.9"/>
<path d="M-0.03 -0.23 Q-0.05 -13.29 -0.10 -19.39" fill="none" stroke="#58AE32" stroke-width="1.04" stroke-linecap="round"/>
<path d="M2.24 0.47 Q4.36 -11.88 7.95 -19.58" fill="none" stroke="#8ACB42" stroke-width="0.88" stroke-linecap="round"/>
<path d="M11.53 0.07 Q17.13 -5.98 25.06 -10.40" fill="none" stroke="#B0DA4E" stroke-width="0.85" stroke-linecap="round"/>
<path d="M1.45 0.21 Q1.73 -10.84 2.37 -16.08" fill="none" stroke="#C4E45F" stroke-width="1.05" stroke-linecap="round"/>
<path d="M-3.98 0.73 Q-5.81 -8.59 -8.71 -14.75" fill="none" stroke="#B0DA4E" stroke-width="0.92" stroke-linecap="round"/>
<path d="M6.29 0.07 Q10.10 -7.36 16.23 -12.19" fill="none" stroke="#6BBB36" stroke-width="0.84" stroke-linecap="round"/>
<path d="M-4.18 -0.21 Q-6.61 -12.31 -10.46 -20.30" fill="none" stroke="#8ACB42" stroke-width="1.00" stroke-linecap="round"/>
<path d="M6.07 0.16 Q8.41 -10.85 14.72 -15.39" fill="none" stroke="#B0DA4E" stroke-width="0.99" stroke-linecap="round"/>
<path d="M-6.44 0.35 Q-10.23 -11.61 -16.45 -19.28" fill="none" stroke="#6BBB36" stroke-width="0.99" stroke-linecap="round"/>
<path d="M1.07 0.22 Q2.69 -12.70 7.15 -17.93" fill="none" stroke="#7DC63C" stroke-width="0.87" stroke-linecap="round"/>
<path d="M-8.19 0.30 Q-13.18 -8.64 -22.37 -13.81" fill="none" stroke="#58AE32" stroke-width="0.92" stroke-linecap="round"/>
<path d="M0.57 0.69 Q1.46 -13.37 4.05 -18.82" fill="none" stroke="#8ACB42" stroke-width="0.80" stroke-linecap="round"/>
<path d="M7.70 0.30 Q11.46 -10.24 19.73 -15.45" fill="none" stroke="#4FA62E" stroke-width="1.09" stroke-linecap="round"/>
<path d="M-9.23 0.34 Q-13.88 -6.27 -21.02 -10.76" fill="none" stroke="#B0DA4E" stroke-width="1.09" stroke-linecap="round"/>
<path d="M-1.96 0.21 Q-3.21 -12.07 -5.85 -18.36" fill="none" stroke="#8ACB42" stroke-width="0.85" stroke-linecap="round"/>
<path d="M9.31 0.09 Q14.53 -7.95 24.14 -12.59" fill="none" stroke="#7DC63C" stroke-width="1.07" stroke-linecap="round"/>
<path d="M-3.61 0.06 Q-6.36 -12.68 -11.40 -20.06" fill="none" stroke="#4FA62E" stroke-width="1.06" stroke-linecap="round"/>
<path d="M-2.75 0.77 Q-3.42 -10.72 -5.30 -15.30" fill="none" stroke="#B0DA4E" stroke-width="0.91" stroke-linecap="round"/>
<path d="M3.97 0.25 Q4.59 -11.24 6.37 -15.71" fill="none" stroke="#58AE32" stroke-width="0.92" stroke-linecap="round"/>
<path d="M-5.97 -0.27 Q-9.15 -12.19 -14.45 -19.71" fill="none" stroke="#8ACB42" stroke-width="1.00" stroke-linecap="round"/>
<path d="M-10.05 0.23 Q-12.58 -5.03 -19.83 -7.09" fill="none" stroke="#6BBB36" stroke-width="0.97" stroke-linecap="round"/>
<path d="M4.12 -0.13 Q6.49 -8.26 11.25 -12.62" fill="none" stroke="#58AE32" stroke-width="1.10" stroke-linecap="round"/>
<path d="M11.29 0.67 Q14.85 -6.04 23.64 -9.03" fill="none" stroke="#7DC63C" stroke-width="1.07" stroke-linecap="round"/>
<path d="M-5.14 0.03 Q-7.70 -10.10 -12.31 -16.06" fill="none" stroke="#8ACB42" stroke-width="0.96" stroke-linecap="round"/>
<path d="M0.25 -0.09 Q1.65 -10.71 5.75 -15.25 Q2.82 -10.59 1.93 0.09Z" fill="#14602A"/>
<path d="M3.65 0.53 Q6.09 -6.11 12.13 -9.30 Q7.15 -5.77 5.17 1.03Z" fill="#25802A"/>
<path d="M9.10 0.56 Q11.71 -5.91 19.13 -8.68 Q12.79 -5.53 10.64 1.12Z" fill="#14602A"/>
<path d="M-5.53 0.33 Q-6.83 -5.18 -10.47 -7.93 Q-5.57 -5.55 -3.72 -0.20Z" fill="#14602A"/>
<path d="M0.20 0.28 Q0.89 -9.45 2.46 -14.74 Q1.88 -9.40 1.61 0.35Z" fill="#14602A"/>
<path d="M-3.23 0.61 Q-3.13 -7.52 -2.95 -11.49 Q-1.82 -7.55 -1.36 0.56Z" fill="#2E8C2A"/>
<path d="M-7.87 1.06 Q-8.55 -4.64 -10.97 -7.07 Q-7.49 -4.81 -6.36 0.82Z" fill="#176B24"/>
<path d="M6.01 0.55 Q8.87 -5.41 16.82 -7.98 Q9.80 -5.00 7.34 1.13Z" fill="#14602A"/>
<path d="M-6.16 1.03 Q-9.17 -6.40 -16.19 -10.48 Q-8.14 -6.85 -4.69 0.38Z" fill="#1F7A26"/>
<path d="M-2.22 0.11 Q-2.57 -6.10 -3.56 -9.13 Q-1.61 -6.19 -0.85 -0.02Z" fill="#176B24"/>
<path d="M-7.44 0.62 Q-9.16 -6.95 -12.52 -11.51 Q-7.98 -7.26 -5.76 0.18Z" fill="#2E8C2A"/>
<path d="M-4.84 1.14 Q-6.67 -6.74 -9.42 -12.32 Q-5.61 -7.01 -3.33 0.74Z" fill="#2E8C2A"/>
<path d="M-4.48 0.49 Q-5.87 -7.46 -9.13 -11.72 Q-4.52 -7.74 -2.56 0.09Z" fill="#25802A"/>
<path d="M-7.05 0.91 Q-8.43 -7.21 -12.38 -11.07 Q-7.29 -7.44 -5.42 0.59Z" fill="#1F7A26"/>
<path d="M5.23 -0.16 Q8.10 -5.42 12.64 -9.05 Q8.92 -5.01 6.41 0.43Z" fill="#3A9A2E"/>
<path d="M0.06 0.50 Q1.02 -5.09 3.07 -8.21 Q2.04 -4.95 1.52 0.69Z" fill="#176B24"/>
<path d="M-6.88 0.81 Q-8.10 -9.76 -12.12 -14.29 Q-7.17 -9.88 -5.56 0.64Z" fill="#1F7A26"/>
<path d="M-1.58 0.15 Q-2.08 -10.77 -3.62 -15.83 Q-0.72 -10.87 0.36 0.01Z" fill="#176B24"/>
<path d="M-8.79 0.51 Q-11.01 -5.97 -16.67 -9.33 Q-10.01 -6.36 -7.36 -0.04Z" fill="#25802A"/>
<path d="M5.49 0.15 Q7.49 -6.00 11.60 -9.50 Q8.51 -5.71 6.94 0.57Z" fill="#14602A"/>
<path d="M5.79 0.19 Q8.83 -5.67 13.62 -9.75 Q9.98 -5.14 7.44 0.96Z" fill="#176B24"/>
<path d="M-11.69 0.93 Q-13.24 -2.79 -17.43 -4.82 Q-12.01 -3.41 -9.94 0.05Z" fill="#14602A"/>
<path d="M-8.69 1.10 Q-11.41 -2.99 -16.98 -5.59 Q-10.51 -3.66 -7.40 0.14Z" fill="#176B24"/>
<path d="M-9.38 1.26 Q-12.17 -5.64 -16.47 -10.60 Q-10.95 -6.18 -7.64 0.48Z" fill="#176B24"/>
<path d="M-7.59 0.43 Q-8.61 -5.78 -11.83 -8.57 Q-7.60 -5.98 -6.16 0.14Z" fill="#176B24"/>
<path d="M-5.04 0.18 Q-6.54 -8.94 -9.60 -14.22 Q-5.63 -9.11 -3.74 -0.06Z" fill="#176B24"/>
<path d="M7.93 0.02 Q9.48 -3.96 14.40 -5.43 Q10.66 -3.58 9.62 0.56Z" fill="#14602A"/>
<path d="M-9.70 1.16 Q-13.09 -4.07 -19.46 -7.52 Q-12.10 -4.77 -8.28 0.15Z" fill="#14602A"/>
<path d="M-6.06 0.88 Q-7.10 -7.17 -10.02 -11.06 Q-5.86 -7.37 -4.28 0.59Z" fill="#1F7A26"/>
<path d="M-9.75 1.03 Q-11.79 -3.42 -14.53 -6.97 Q-10.67 -4.01 -8.15 0.19Z" fill="#3A9A2E"/>
<path d="M-10.02 0.47 Q-13.08 -5.22 -19.94 -8.53 Q-12.07 -5.82 -8.57 -0.38Z" fill="#25802A"/>
<path d="M5.93 0.43 Q9.92 -5.36 16.03 -9.42 Q10.72 -4.84 7.08 1.17Z" fill="#176B24"/>
<path d="M-6.60 0.28 Q-7.69 -3.95 -9.85 -6.53 Q-6.71 -4.26 -5.19 -0.16Z" fill="#176B24"/>
<path d="M3.51 0.09 Q5.00 -10.32 8.04 -16.47 Q6.25 -10.17 5.29 0.30Z" fill="#14602A"/>
<path d="M-1.69 0.11 Q-1.42 -5.79 -0.78 -8.91 Q-0.25 -5.79 -0.01 0.11Z" fill="#1F7A26"/>
<path d="M3.04 0.32 Q4.74 -4.93 9.19 -7.31 Q5.85 -4.63 4.63 0.76Z" fill="#25802A"/>
<path d="M-1.55 0.60 Q-1.38 -8.76 -1.02 -13.58" fill="none" stroke="#B0DA4E" stroke-width="0.72" stroke-linecap="round"/>
<path d="M-5.38 0.21 Q-9.52 -8.48 -15.88 -14.38" fill="none" stroke="#B0DA4E" stroke-width="0.65" stroke-linecap="round"/>
<path d="M-9.19 0.34 Q-12.87 -6.75 -19.14 -11.14" fill="none" stroke="#B0DA4E" stroke-width="0.69" stroke-linecap="round"/>
<path d="M0.68 0.64 Q0.60 -8.53 0.49 -14.98" fill="none" stroke="#C4E45F" stroke-width="0.77" stroke-linecap="round"/>
<path d="M5.93 0.00 Q8.32 -9.79 13.43 -14.76" fill="none" stroke="#B0DA4E" stroke-width="0.62" stroke-linecap="round"/>
<path d="M-0.42 0.76 Q-1.17 -13.63 -2.62 -21.69" fill="none" stroke="#BADF58" stroke-width="0.73" stroke-linecap="round"/>
<path d="M-6.83 0.26 Q-11.94 -10.22 -20.57 -16.75" fill="none" stroke="#B0DA4E" stroke-width="0.63" stroke-linecap="round"/>
<path d="M1.42 0.61 Q3.26 -8.49 6.08 -14.71" fill="none" stroke="#C4E45F" stroke-width="0.69" stroke-linecap="round"/>
<path d="M8.20 0.21 Q14.24 -9.06 24.21 -14.96" fill="none" stroke="#C4E45F" stroke-width="0.79" stroke-linecap="round"/>
<path d="M-1.96 0.01 Q-2.55 -11.13 -3.98 -16.22" fill="none" stroke="#B0DA4E" stroke-width="0.70" stroke-linecap="round"/>
<path d="M-8.60 0.57 Q-11.97 -9.56 -20.52 -13.97" fill="none" stroke="#CFEA78" stroke-width="0.66" stroke-linecap="round"/>
<path d="M-5.21 0.37 Q-9.20 -7.09 -14.98 -12.42" fill="none" stroke="#CFEA78" stroke-width="0.66" stroke-linecap="round"/>
<path d="M2.92 0.39 Q4.04 -9.21 6.94 -13.33" fill="none" stroke="#B0DA4E" stroke-width="0.55" stroke-linecap="round"/>
<path d="M0.46 0.03 Q-0.06 -8.53 -1.31 -12.50" fill="none" stroke="#CFEA78" stroke-width="0.69" stroke-linecap="round"/>
</g>
<g transform="translate(868.8 626.5) scale(1.03)">
<path d="M-10.47 0.42 Q-15.31 -17.97 -27.40 -26.10" fill="none" stroke="#58AE32" stroke-width="0.84" stroke-linecap="round" opacity="0.9"/>
<path d="M-10.59 0.46 Q-17.80 -9.19 -30.70 -14.90" fill="none" stroke="#C4E45F" stroke-width="0.79" stroke-linecap="round" opacity="0.9"/>
<path d="M-12.00 -0.20 Q-18.49 -6.92 -30.10 -10.90" fill="none" stroke="#B0DA4E" stroke-width="0.72" stroke-linecap="round" opacity="0.9"/>
<path d="M-5.50 -0.08 Q-8.42 -20.54 -14.20 -31.60" fill="none" stroke="#98CE3C" stroke-width="0.78" stroke-linecap="round" opacity="0.9"/>
<path d="M-5.35 -0.16 Q-7.17 -19.45 -10.20 -31.60" fill="none" stroke="#CFEA78" stroke-width="0.80" stroke-linecap="round" opacity="0.9"/>
<path d="M-1.81 -0.18 Q-3.34 -15.86 -5.70 -26.50" fill="none" stroke="#6BBB36" stroke-width="0.84" stroke-linecap="round" opacity="0.9"/>
<path d="M3.61 0.49 Q4.30 -16.85 6.30 -23.50" fill="none" stroke="#B0DA4E" stroke-width="0.67" stroke-linecap="round" opacity="0.9"/>
<path d="M5.20 0.26 Q7.07 -19.47 12.60 -27.00" fill="none" stroke="#BADF58" stroke-width="0.65" stroke-linecap="round" opacity="0.9"/>
<path d="M8.75 -0.03 Q14.73 -12.48 24.90 -20.20" fill="none" stroke="#CFEA78" stroke-width="0.69" stroke-linecap="round" opacity="0.9"/>
<path d="M7.90 -0.00 Q12.66 -11.24 23.30 -16.70" fill="none" stroke="#C4E45F" stroke-width="0.80" stroke-linecap="round" opacity="0.9"/>
<path d="M12.50 -0.24 Q18.91 -8.48 30.80 -13.20" fill="none" stroke="#58AE32" stroke-width="0.69" stroke-linecap="round" opacity="0.9"/>
<path d="M-8.01 0.13 Q-13.42 -17.42 -22.00 -29.00" fill="none" stroke="#B0DA4E" stroke-width="0.78" stroke-linecap="round" opacity="0.9"/>
<path d="M-8.10 0.55 Q-13.77 -13.43 -25.00 -21.00" fill="none" stroke="#C4E45F" stroke-width="0.69" stroke-linecap="round" opacity="0.9"/>
<path d="M7.40 0.03 Q11.57 -14.00 18.00 -23.50" fill="none" stroke="#CFEA78" stroke-width="0.74" stroke-linecap="round" opacity="0.9"/>
<path d="M-1.41 0.26 Q-0.50 -16.70 1.00 -27.50" fill="none" stroke="#B0DA4E" stroke-width="0.84" stroke-linecap="round" opacity="0.9"/>
<path d="M-8.22 0.01 Q-11.33 -18.61 -18.00 -28.00" fill="none" stroke="#8ACB42" stroke-width="0.69" stroke-linecap="round" opacity="0.9"/>
<path d="M4.70 0.23 Q6.17 -18.59 9.00 -29.00" fill="none" stroke="#C4E45F" stroke-width="0.80" stroke-linecap="round" opacity="0.9"/>
<path d="M7.38 0.55 Q11.91 -15.81 20.50 -25.00" fill="none" stroke="#CFEA78" stroke-width="0.62" stroke-linecap="round" opacity="0.9"/>
<path d="M-10.76 0.01 Q-16.19 -12.35 -28.00 -18.50" fill="none" stroke="#B0DA4E" stroke-width="0.83" stroke-linecap="round" opacity="0.9"/>
<path d="M10.05 -0.02 Q15.18 -11.54 27.00 -17.00" fill="none" stroke="#A2D444" stroke-width="0.80" stroke-linecap="round" opacity="0.9"/>
<path d="M-3.92 0.60 Q-7.05 -17.20 -12.00 -29.00" fill="none" stroke="#58AE32" stroke-width="0.64" stroke-linecap="round" opacity="0.9"/>
<path d="M-0.85 0.53 Q-2.61 -20.64 -7.00 -30.00" fill="none" stroke="#98CE3C" stroke-width="0.61" stroke-linecap="round" opacity="0.9"/>
<path d="M0.98 0.11 Q2.15 -16.22 4.00 -27.00" fill="none" stroke="#A2D444" stroke-width="0.71" stroke-linecap="round" opacity="0.9"/>
<path d="M7.66 0.42 Q10.34 -16.96 15.00 -27.50" fill="none" stroke="#C4E45F" stroke-width="0.68" stroke-linecap="round" opacity="0.9"/>
<path d="M-7.67 0.55 Q-12.23 -16.98 -24.00 -24.50" fill="none" stroke="#98CE3C" stroke-width="0.76" stroke-linecap="round" opacity="0.9"/>
<path d="M7.23 0.04 Q12.15 -13.98 22.00 -21.50" fill="none" stroke="#8ACB42" stroke-width="0.61" stroke-linecap="round" opacity="0.9"/>
<path d="M-9.44 0.47 Q-12.90 -16.22 -20.00 -25.00" fill="none" stroke="#98CE3C" stroke-width="0.84" stroke-linecap="round" opacity="0.9"/>
<path d="M-1.25 -0.01 Q-1.82 -19.07 -3.00 -29.00" fill="none" stroke="#BADF58" stroke-width="0.67" stroke-linecap="round" opacity="0.9"/>
<path d="M6.01 0.04 Q7.28 -18.06 11.00 -25.00" fill="none" stroke="#C4E45F" stroke-width="0.85" stroke-linecap="round" opacity="0.9"/>
<path d="M-5.89 0.48 Q-9.15 -19.65 -16.00 -30.00" fill="none" stroke="#CFEA78" stroke-width="0.65" stroke-linecap="round" opacity="0.9"/>
<path d="M-0.03 -0.23 Q-0.05 -13.29 -0.10 -19.39" fill="none" stroke="#58AE32" stroke-width="1.04" stroke-linecap="round"/>
<path d="M2.24 0.47 Q4.36 -11.88 7.95 -19.58" fill="none" stroke="#8ACB42" stroke-width="0.88" stroke-linecap="round"/>
<path d="M11.53 0.07 Q17.13 -5.98 25.06 -10.40" fill="none" stroke="#B0DA4E" stroke-width="0.85" stroke-linecap="round"/>
<path d="M1.45 0.21 Q1.73 -10.84 2.37 -16.08" fill="none" stroke="#C4E45F" stroke-width="1.05" stroke-linecap="round"/>
<path d="M-3.98 0.73 Q-5.81 -8.59 -8.71 -14.75" fill="none" stroke="#B0DA4E" stroke-width="0.92" stroke-linecap="round"/>
<path d="M6.29 0.07 Q10.10 -7.36 16.23 -12.19" fill="none" stroke="#6BBB36" stroke-width="0.84" stroke-linecap="round"/>
<path d="M-4.18 -0.21 Q-6.61 -12.31 -10.46 -20.30" fill="none" stroke="#8ACB42" stroke-width="1.00" stroke-linecap="round"/>
<path d="M6.07 0.16 Q8.41 -10.85 14.72 -15.39" fill="none" stroke="#B0DA4E" stroke-width="0.99" stroke-linecap="round"/>
<path d="M-6.44 0.35 Q-10.23 -11.61 -16.45 -19.28" fill="none" stroke="#6BBB36" stroke-width="0.99" stroke-linecap="round"/>
<path d="M1.07 0.22 Q2.69 -12.70 7.15 -17.93" fill="none" stroke="#7DC63C" stroke-width="0.87" stroke-linecap="round"/>
<path d="M-8.19 0.30 Q-13.18 -8.64 -22.37 -13.81" fill="none" stroke="#58AE32" stroke-width="0.92" stroke-linecap="round"/>
<path d="M0.57 0.69 Q1.46 -13.37 4.05 -18.82" fill="none" stroke="#8ACB42" stroke-width="0.80" stroke-linecap="round"/>
<path d="M7.70 0.30 Q11.46 -10.24 19.73 -15.45" fill="none" stroke="#4FA62E" stroke-width="1.09" stroke-linecap="round"/>
<path d="M-9.23 0.34 Q-13.88 -6.27 -21.02 -10.76" fill="none" stroke="#B0DA4E" stroke-width="1.09" stroke-linecap="round"/>
<path d="M-1.96 0.21 Q-3.21 -12.07 -5.85 -18.36" fill="none" stroke="#8ACB42" stroke-width="0.85" stroke-linecap="round"/>
<path d="M9.31 0.09 Q14.53 -7.95 24.14 -12.59" fill="none" stroke="#7DC63C" stroke-width="1.07" stroke-linecap="round"/>
<path d="M-3.61 0.06 Q-6.36 -12.68 -11.40 -20.06" fill="none" stroke="#4FA62E" stroke-width="1.06" stroke-linecap="round"/>
<path d="M-2.75 0.77 Q-3.42 -10.72 -5.30 -15.30" fill="none" stroke="#B0DA4E" stroke-width="0.91" stroke-linecap="round"/>
<path d="M3.97 0.25 Q4.59 -11.24 6.37 -15.71" fill="none" stroke="#58AE32" stroke-width="0.92" stroke-linecap="round"/>
<path d="M-5.97 -0.27 Q-9.15 -12.19 -14.45 -19.71" fill="none" stroke="#8ACB42" stroke-width="1.00" stroke-linecap="round"/>
<path d="M-10.05 0.23 Q-12.58 -5.03 -19.83 -7.09" fill="none" stroke="#6BBB36" stroke-width="0.97" stroke-linecap="round"/>
<path d="M4.12 -0.13 Q6.49 -8.26 11.25 -12.62" fill="none" stroke="#58AE32" stroke-width="1.10" stroke-linecap="round"/>
<path d="M11.29 0.67 Q14.85 -6.04 23.64 -9.03" fill="none" stroke="#7DC63C" stroke-width="1.07" stroke-linecap="round"/>
<path d="M-5.14 0.03 Q-7.70 -10.10 -12.31 -16.06" fill="none" stroke="#8ACB42" stroke-width="0.96" stroke-linecap="round"/>
<path d="M0.25 -0.09 Q1.65 -10.71 5.75 -15.25 Q2.82 -10.59 1.93 0.09Z" fill="#14602A"/>
<path d="M3.65 0.53 Q6.09 -6.11 12.13 -9.30 Q7.15 -5.77 5.17 1.03Z" fill="#25802A"/>
<path d="M9.10 0.56 Q11.71 -5.91 19.13 -8.68 Q12.79 -5.53 10.64 1.12Z" fill="#14602A"/>
<path d="M-5.53 0.33 Q-6.83 -5.18 -10.47 -7.93 Q-5.57 -5.55 -3.72 -0.20Z" fill="#14602A"/>
<path d="M0.20 0.28 Q0.89 -9.45 2.46 -14.74 Q1.88 -9.40 1.61 0.35Z" fill="#14602A"/>
<path d="M-3.23 0.61 Q-3.13 -7.52 -2.95 -11.49 Q-1.82 -7.55 -1.36 0.56Z" fill="#2E8C2A"/>
<path d="M-7.87 1.06 Q-8.55 -4.64 -10.97 -7.07 Q-7.49 -4.81 -6.36 0.82Z" fill="#176B24"/>
<path d="M6.01 0.55 Q8.87 -5.41 16.82 -7.98 Q9.80 -5.00 7.34 1.13Z" fill="#14602A"/>
<path d="M-6.16 1.03 Q-9.17 -6.40 -16.19 -10.48 Q-8.14 -6.85 -4.69 0.38Z" fill="#1F7A26"/>
<path d="M-2.22 0.11 Q-2.57 -6.10 -3.56 -9.13 Q-1.61 -6.19 -0.85 -0.02Z" fill="#176B24"/>
<path d="M-7.44 0.62 Q-9.16 -6.95 -12.52 -11.51 Q-7.98 -7.26 -5.76 0.18Z" fill="#2E8C2A"/>
<path d="M-4.84 1.14 Q-6.67 -6.74 -9.42 -12.32 Q-5.61 -7.01 -3.33 0.74Z" fill="#2E8C2A"/>
<path d="M-4.48 0.49 Q-5.87 -7.46 -9.13 -11.72 Q-4.52 -7.74 -2.56 0.09Z" fill="#25802A"/>
<path d="M-7.05 0.91 Q-8.43 -7.21 -12.38 -11.07 Q-7.29 -7.44 -5.42 0.59Z" fill="#1F7A26"/>
<path d="M5.23 -0.16 Q8.10 -5.42 12.64 -9.05 Q8.92 -5.01 6.41 0.43Z" fill="#3A9A2E"/>
<path d="M0.06 0.50 Q1.02 -5.09 3.07 -8.21 Q2.04 -4.95 1.52 0.69Z" fill="#176B24"/>
<path d="M-6.88 0.81 Q-8.10 -9.76 -12.12 -14.29 Q-7.17 -9.88 -5.56 0.64Z" fill="#1F7A26"/>
<path d="M-1.58 0.15 Q-2.08 -10.77 -3.62 -15.83 Q-0.72 -10.87 0.36 0.01Z" fill="#176B24"/>
<path d="M-8.79 0.51 Q-11.01 -5.97 -16.67 -9.33 Q-10.01 -6.36 -7.36 -0.04Z" fill="#25802A"/>
<path d="M5.49 0.15 Q7.49 -6.00 11.60 -9.50 Q8.51 -5.71 6.94 0.57Z" fill="#14602A"/>
<path d="M5.79 0.19 Q8.83 -5.67 13.62 -9.75 Q9.98 -5.14 7.44 0.96Z" fill="#176B24"/>
<path d="M-11.69 0.93 Q-13.24 -2.79 -17.43 -4.82 Q-12.01 -3.41 -9.94 0.05Z" fill="#14602A"/>
<path d="M-8.69 1.10 Q-11.41 -2.99 -16.98 -5.59 Q-10.51 -3.66 -7.40 0.14Z" fill="#176B24"/>
<path d="M-9.38 1.26 Q-12.17 -5.64 -16.47 -10.60 Q-10.95 -6.18 -7.64 0.48Z" fill="#176B24"/>
<path d="M-7.59 0.43 Q-8.61 -5.78 -11.83 -8.57 Q-7.60 -5.98 -6.16 0.14Z" fill="#176B24"/>
<path d="M-5.04 0.18 Q-6.54 -8.94 -9.60 -14.22 Q-5.63 -9.11 -3.74 -0.06Z" fill="#176B24"/>
<path d="M7.93 0.02 Q9.48 -3.96 14.40 -5.43 Q10.66 -3.58 9.62 0.56Z" fill="#14602A"/>
<path d="M-9.70 1.16 Q-13.09 -4.07 -19.46 -7.52 Q-12.10 -4.77 -8.28 0.15Z" fill="#14602A"/>
<path d="M-6.06 0.88 Q-7.10 -7.17 -10.02 -11.06 Q-5.86 -7.37 -4.28 0.59Z" fill="#1F7A26"/>
<path d="M-9.75 1.03 Q-11.79 -3.42 -14.53 -6.97 Q-10.67 -4.01 -8.15 0.19Z" fill="#3A9A2E"/>
<path d="M-10.02 0.47 Q-13.08 -5.22 -19.94 -8.53 Q-12.07 -5.82 -8.57 -0.38Z" fill="#25802A"/>
<path d="M5.93 0.43 Q9.92 -5.36 16.03 -9.42 Q10.72 -4.84 7.08 1.17Z" fill="#176B24"/>
<path d="M-6.60 0.28 Q-7.69 -3.95 -9.85 -6.53 Q-6.71 -4.26 -5.19 -0.16Z" fill="#176B24"/>
<path d="M3.51 0.09 Q5.00 -10.32 8.04 -16.47 Q6.25 -10.17 5.29 0.30Z" fill="#14602A"/>
<path d="M-1.69 0.11 Q-1.42 -5.79 -0.78 -8.91 Q-0.25 -5.79 -0.01 0.11Z" fill="#1F7A26"/>
<path d="M3.04 0.32 Q4.74 -4.93 9.19 -7.31 Q5.85 -4.63 4.63 0.76Z" fill="#25802A"/>
<path d="M-1.55 0.60 Q-1.38 -8.76 -1.02 -13.58" fill="none" stroke="#B0DA4E" stroke-width="0.72" stroke-linecap="round"/>
<path d="M-5.38 0.21 Q-9.52 -8.48 -15.88 -14.38" fill="none" stroke="#B0DA4E" stroke-width="0.65" stroke-linecap="round"/>
<path d="M-9.19 0.34 Q-12.87 -6.75 -19.14 -11.14" fill="none" stroke="#B0DA4E" stroke-width="0.69" stroke-linecap="round"/>
<path d="M0.68 0.64 Q0.60 -8.53 0.49 -14.98" fill="none" stroke="#C4E45F" stroke-width="0.77" stroke-linecap="round"/>
<path d="M5.93 0.00 Q8.32 -9.79 13.43 -14.76" fill="none" stroke="#B0DA4E" stroke-width="0.62" stroke-linecap="round"/>
<path d="M-0.42 0.76 Q-1.17 -13.63 -2.62 -21.69" fill="none" stroke="#BADF58" stroke-width="0.73" stroke-linecap="round"/>
<path d="M-6.83 0.26 Q-11.94 -10.22 -20.57 -16.75" fill="none" stroke="#B0DA4E" stroke-width="0.63" stroke-linecap="round"/>
<path d="M1.42 0.61 Q3.26 -8.49 6.08 -14.71" fill="none" stroke="#C4E45F" stroke-width="0.69" stroke-linecap="round"/>
<path d="M8.20 0.21 Q14.24 -9.06 24.21 -14.96" fill="none" stroke="#C4E45F" stroke-width="0.79" stroke-linecap="round"/>
<path d="M-1.96 0.01 Q-2.55 -11.13 -3.98 -16.22" fill="none" stroke="#B0DA4E" stroke-width="0.70" stroke-linecap="round"/>
<path d="M-8.60 0.57 Q-11.97 -9.56 -20.52 -13.97" fill="none" stroke="#CFEA78" stroke-width="0.66" stroke-linecap="round"/>
<path d="M-5.21 0.37 Q-9.20 -7.09 -14.98 -12.42" fill="none" stroke="#CFEA78" stroke-width="0.66" stroke-linecap="round"/>
<path d="M2.92 0.39 Q4.04 -9.21 6.94 -13.33" fill="none" stroke="#B0DA4E" stroke-width="0.55" stroke-linecap="round"/>
<path d="M0.46 0.03 Q-0.06 -8.53 -1.31 -12.50" fill="none" stroke="#CFEA78" stroke-width="0.69" stroke-linecap="round"/>
</g>
<circle transform="translate(28.45 803.2) scale(1.0516 1)" cx="0" cy="0" r="13.95" fill="#fff" stroke="#000" stroke-width="3.1"/>
<text x="28.45" y="809.01" font-size="17.0" text-anchor="middle" fill="#000" stroke="#000" stroke-width="0.2" style="font-family:'DejaVu Sans Light','DejaVu Sans',sans-serif;font-weight:200">+</text>
<circle transform="translate(26.5 842.9) scale(1.0452 1)" cx="0" cy="0" r="13.95" fill="#fff" stroke="#000" stroke-width="3.1"/>
<text transform="translate(25.70 854.05) scale(1 1.08)" font-size="31" text-anchor="middle" fill="#000" font-weight="bold">-</text>
<text transform="translate(64.80 809.50) scale(1 1.055)" font-size="20.46" fill="#000" stroke="#000" stroke-width="0.2">represents the value higher than control under the same vegetation composition</text>
<text transform="translate(61.10 850.00) scale(1 1.055)" font-size="20.46" fill="#000" stroke="#000" stroke-width="0.2">represents the value lower than control under the same vegetation composition</text>
</svg>
</body>
</html>
